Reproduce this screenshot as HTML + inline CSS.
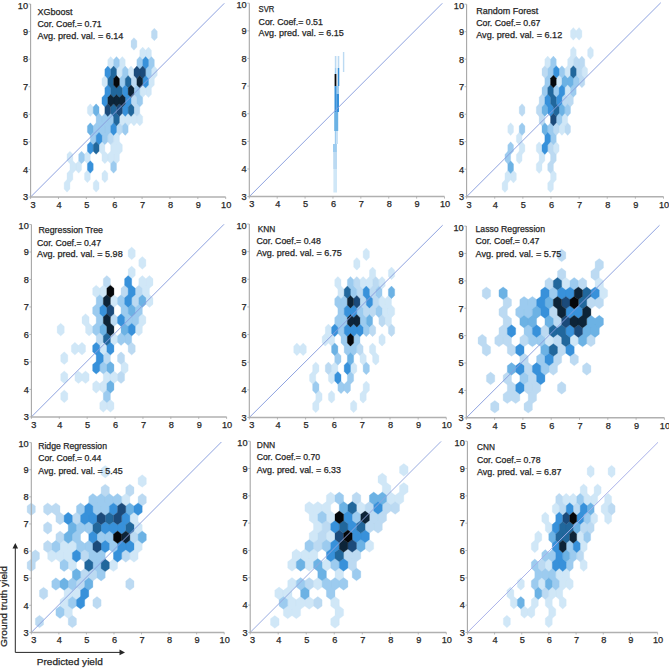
<!DOCTYPE html><html><head><meta charset="utf-8"><style>html,body{margin:0;padding:0;background:#fff;}svg{display:block;}text{font-family:"Liberation Sans",sans-serif;fill:#262626;stroke:#262626;stroke-width:0.25px;}</style></head><body>
<svg width="669" height="668" viewBox="0 0 669 668">
<rect width="669" height="668" fill="#fff"/>
<path fill="#d0e7f7" stroke="#d0e7f7" stroke-width="0.3" d="M142.69 47.11L145.6 50.27L145.6 56.57L142.69 59.73L139.78 56.57L139.78 50.27ZM148.51 47.11L151.42 50.27L151.42 56.57L148.51 59.73L145.6 56.57L145.6 50.27ZM110.68 56.57L113.59 59.73L113.59 66.03L110.68 69.19L107.77 66.03L107.77 59.73ZM122.32 56.57L125.23 59.73L125.23 66.03L122.32 69.19L119.41 66.03L119.41 59.73ZM119.41 66.03L122.32 69.19L122.32 75.49L119.41 78.65L116.5 75.49L116.5 69.19ZM131.05 66.03L133.96 69.19L133.96 75.49L131.05 78.65L128.14 75.49L128.14 69.19ZM154.33 66.03L157.24 69.19L157.24 75.49L154.33 78.65L151.42 75.49L151.42 69.19ZM104.86 75.49L107.77 78.65L107.77 84.95L104.86 88.11L101.95 84.95L101.95 78.65ZM151.42 75.49L154.33 78.65L154.33 84.95L151.42 88.11L148.51 84.95L148.51 78.65ZM142.69 84.95L145.6 88.11L145.6 94.41L142.69 97.57L139.78 94.41L139.78 88.11ZM148.51 84.95L151.42 88.11L151.42 94.41L148.51 97.57L145.6 94.41L145.6 88.11ZM90.31 103.87L93.22 107.03L93.22 113.33L90.31 116.49L87.4 113.33L87.4 107.03ZM122.32 113.33L125.23 116.49L125.23 122.79L122.32 125.95L119.41 122.79L119.41 116.49ZM128.14 113.33L131.05 116.49L131.05 122.79L128.14 125.95L125.23 122.79L125.23 116.49ZM133.96 113.33L136.87 116.49L136.87 122.79L133.96 125.95L131.05 122.79L131.05 116.49ZM139.78 113.33L142.69 116.49L142.69 122.79L139.78 125.95L136.87 122.79L136.87 116.49ZM116.5 132.25L119.41 135.41L119.41 141.71L116.5 144.87L113.59 141.71L113.59 135.41ZM101.95 141.71L104.86 144.87L104.86 151.17L101.95 154.33L99.04 151.17L99.04 144.87ZM113.59 141.71L116.5 144.87L116.5 151.17L113.59 154.33L110.68 151.17L110.68 144.87ZM119.41 141.71L122.32 144.87L122.32 151.17L119.41 154.33L116.5 151.17L116.5 144.87ZM69.94 151.17L72.85 154.33L72.85 160.63L69.94 163.79L67.03 160.63L67.03 154.33ZM87.4 151.17L90.31 154.33L90.31 160.63L87.4 163.79L84.49 160.63L84.49 154.33ZM104.86 151.17L107.77 154.33L107.77 160.63L104.86 163.79L101.95 160.63L101.95 154.33ZM110.68 151.17L113.59 154.33L113.59 160.63L110.68 163.79L107.77 160.63L107.77 154.33ZM116.5 151.17L119.41 154.33L119.41 160.63L116.5 163.79L113.59 160.63L113.59 154.33ZM72.85 160.63L75.76 163.79L75.76 170.09L72.85 173.25L69.94 170.09L69.94 163.79ZM78.67 160.63L81.58 163.79L81.58 170.09L78.67 173.25L75.76 170.09L75.76 163.79ZM69.94 170.09L72.85 173.25L72.85 179.55L69.94 182.71L67.03 179.55L67.03 173.25ZM87.4 170.09L90.31 173.25L90.31 179.55L87.4 182.71L84.49 179.55L84.49 173.25ZM104.86 170.09L107.77 173.25L107.77 179.55L104.86 182.71L101.95 179.55L101.95 173.25ZM67.03 179.55L69.94 182.71L69.94 189.01L67.03 192.17L64.12 189.01L64.12 182.71ZM96.13 179.55L99.04 182.71L99.04 189.01L96.13 192.17L93.22 189.01L93.22 182.71Z"/>
<path fill="#bcdaf2" stroke="#bcdaf2" stroke-width="0.3" d="M154.33 28.19L157.24 31.35L157.24 37.65L154.33 40.81L151.42 37.65L151.42 31.35ZM133.96 37.65L136.87 40.81L136.87 47.11L133.96 50.27L131.05 47.11L131.05 40.81ZM133.96 75.49L136.87 78.65L136.87 84.95L133.96 88.11L131.05 84.95L131.05 78.65ZM133.96 94.41L136.87 97.57L136.87 103.87L133.96 107.03L131.05 103.87L131.05 97.57ZM136.87 103.87L139.78 107.03L139.78 113.33L136.87 116.49L133.96 113.33L133.96 107.03ZM119.41 122.79L122.32 125.95L122.32 132.25L119.41 135.41L116.5 132.25L116.5 125.95ZM110.68 132.25L113.59 135.41L113.59 141.71L110.68 144.87L107.77 141.71L107.77 135.41Z"/>
<path fill="#9ccbef" stroke="#9ccbef" stroke-width="0.3" d="M116.5 56.57L119.41 59.73L119.41 66.03L116.5 69.19L113.59 66.03L113.59 59.73ZM139.78 56.57L142.69 59.73L142.69 66.03L139.78 69.19L136.87 66.03L136.87 59.73ZM151.42 56.57L154.33 59.73L154.33 66.03L151.42 69.19L148.51 66.03L148.51 59.73ZM125.23 66.03L128.14 69.19L128.14 75.49L125.23 78.65L122.32 75.49L122.32 69.19ZM148.51 66.03L151.42 69.19L151.42 75.49L148.51 78.65L145.6 75.49L145.6 69.19ZM122.32 75.49L125.23 78.65L125.23 84.95L122.32 88.11L119.41 84.95L119.41 78.65ZM136.87 84.95L139.78 88.11L139.78 94.41L136.87 97.57L133.96 94.41L133.96 88.11ZM139.78 94.41L142.69 97.57L142.69 103.87L139.78 107.03L136.87 103.87L136.87 97.57ZM99.04 113.33L101.95 116.49L101.95 122.79L99.04 125.95L96.13 122.79L96.13 116.49ZM104.86 113.33L107.77 116.49L107.77 122.79L104.86 125.95L101.95 122.79L101.95 116.49ZM110.68 113.33L113.59 116.49L113.59 122.79L110.68 125.95L107.77 122.79L107.77 116.49ZM96.13 122.79L99.04 125.95L99.04 132.25L96.13 135.41L93.22 132.25L93.22 125.95ZM101.95 122.79L104.86 125.95L104.86 132.25L101.95 135.41L99.04 132.25L99.04 125.95ZM107.77 122.79L110.68 125.95L110.68 132.25L107.77 135.41L104.86 132.25L104.86 125.95ZM125.23 122.79L128.14 125.95L128.14 132.25L125.23 135.41L122.32 132.25L122.32 125.95ZM93.22 132.25L96.13 135.41L96.13 141.71L93.22 144.87L90.31 141.71L90.31 135.41ZM104.86 132.25L107.77 135.41L107.77 141.71L104.86 144.87L101.95 141.71L101.95 135.41ZM81.58 151.17L84.49 154.33L84.49 160.63L81.58 163.79L78.67 160.63L78.67 154.33ZM113.59 160.63L116.5 163.79L116.5 170.09L113.59 173.25L110.68 170.09L110.68 163.79Z"/>
<path fill="#6cb2e4" stroke="#6cb2e4" stroke-width="0.3" d="M96.13 103.87L99.04 107.03L99.04 113.33L96.13 116.49L93.22 113.33L93.22 107.03ZM90.31 122.79L93.22 125.95L93.22 132.25L90.31 135.41L87.4 132.25L87.4 125.95Z"/>
<path fill="#3891da" stroke="#3891da" stroke-width="0.3" d="M145.6 56.57L148.51 59.73L148.51 66.03L145.6 69.19L142.69 66.03L142.69 59.73ZM107.77 66.03L110.68 69.19L110.68 75.49L107.77 78.65L104.86 75.49L104.86 69.19ZM145.6 75.49L148.51 78.65L148.51 84.95L145.6 88.11L142.69 84.95L142.69 78.65ZM107.77 84.95L110.68 88.11L110.68 94.41L107.77 97.57L104.86 94.41L104.86 88.11ZM125.23 84.95L128.14 88.11L128.14 94.41L125.23 97.57L122.32 94.41L122.32 88.11ZM104.86 94.41L107.77 97.57L107.77 103.87L104.86 107.03L101.95 103.87L101.95 97.57ZM128.14 94.41L131.05 97.57L131.05 103.87L128.14 107.03L125.23 103.87L125.23 97.57ZM125.23 103.87L128.14 107.03L128.14 113.33L125.23 116.49L122.32 113.33L122.32 107.03ZM113.59 122.79L116.5 125.95L116.5 132.25L113.59 135.41L110.68 132.25L110.68 125.95ZM99.04 132.25L101.95 135.41L101.95 141.71L99.04 144.87L96.13 141.71L96.13 135.41ZM90.31 141.71L93.22 144.87L93.22 151.17L90.31 154.33L87.4 151.17L87.4 144.87ZM90.31 160.63L93.22 163.79L93.22 170.09L90.31 173.25L87.4 170.09L87.4 163.79Z"/>
<path fill="#21679c" stroke="#21679c" stroke-width="0.3" d="M113.59 66.03L116.5 69.19L116.5 75.49L113.59 78.65L110.68 75.49L110.68 69.19ZM110.68 75.49L113.59 78.65L113.59 84.95L110.68 88.11L107.77 84.95L107.77 78.65ZM128.14 75.49L131.05 78.65L131.05 84.95L128.14 88.11L125.23 84.95L125.23 78.65ZM113.59 84.95L116.5 88.11L116.5 94.41L113.59 97.57L110.68 94.41L110.68 88.11ZM119.41 84.95L122.32 88.11L122.32 94.41L119.41 97.57L116.5 94.41L116.5 88.11ZM113.59 103.87L116.5 107.03L116.5 113.33L113.59 116.49L110.68 113.33L110.68 107.03ZM131.05 103.87L133.96 107.03L133.96 113.33L131.05 116.49L128.14 113.33L128.14 107.03ZM116.5 113.33L119.41 116.49L119.41 122.79L116.5 125.95L113.59 122.79L113.59 116.49ZM96.13 141.71L99.04 144.87L99.04 151.17L96.13 154.33L93.22 151.17L93.22 144.87Z"/>
<path fill="#1b4a7a" stroke="#1b4a7a" stroke-width="0.3" d="M136.87 66.03L139.78 69.19L139.78 75.49L136.87 78.65L133.96 75.49L133.96 69.19ZM142.69 66.03L145.6 69.19L145.6 75.49L142.69 78.65L139.78 75.49L139.78 69.19ZM107.77 103.87L110.68 107.03L110.68 113.33L107.77 116.49L104.86 113.33L104.86 107.03ZM119.41 103.87L122.32 107.03L122.32 113.33L119.41 116.49L116.5 113.33L116.5 107.03Z"/>
<path fill="#0d2438" stroke="#0d2438" stroke-width="0.3" d="M139.78 75.49L142.69 78.65L142.69 84.95L139.78 88.11L136.87 84.95L136.87 78.65ZM131.05 84.95L133.96 88.11L133.96 94.41L131.05 97.57L128.14 94.41L128.14 88.11ZM110.68 94.41L113.59 97.57L113.59 103.87L110.68 107.03L107.77 103.87L107.77 97.57ZM116.5 94.41L119.41 97.57L119.41 103.87L116.5 107.03L113.59 103.87L113.59 97.57ZM122.32 94.41L125.23 97.57L125.23 103.87L122.32 107.03L119.41 103.87L119.41 97.57Z"/>
<path fill="#05070a" stroke="#05070a" stroke-width="0.3" d="M116.5 75.49L119.41 78.65L119.41 84.95L116.5 88.11L113.59 84.95L113.59 78.65Z"/>
<line x1="30.6" y1="197" x2="224.3" y2="3.3" stroke="#889ddd" stroke-width="0.95"/>
<line x1="30.6" y1="4" x2="30.6" y2="197" stroke="#a6a6a6" stroke-width="1.1"/>
<line x1="30.1" y1="197" x2="225.7" y2="197" stroke="#b0b0b0" stroke-width="1.5"/>
<line x1="28.6" y1="197" x2="30.6" y2="197" stroke="#a6a6a6" stroke-width="0.8"/>
<line x1="30.6" y1="197" x2="30.6" y2="199" stroke="#a6a6a6" stroke-width="0.8"/>
<text x="28" y="200.3" font-size="9.2" text-anchor="end">3</text>
<text x="33" y="207.8" font-size="9.2" text-anchor="middle">3</text>
<line x1="28.6" y1="169.43" x2="30.6" y2="169.43" stroke="#a6a6a6" stroke-width="0.8"/>
<line x1="58.47" y1="197" x2="58.47" y2="199" stroke="#a6a6a6" stroke-width="0.8"/>
<text x="28" y="172.73" font-size="9.2" text-anchor="end">4</text>
<text x="58.97" y="207.8" font-size="9.2" text-anchor="middle">4</text>
<line x1="28.6" y1="141.86" x2="30.6" y2="141.86" stroke="#a6a6a6" stroke-width="0.8"/>
<line x1="86.34" y1="197" x2="86.34" y2="199" stroke="#a6a6a6" stroke-width="0.8"/>
<text x="28" y="145.16" font-size="9.2" text-anchor="end">5</text>
<text x="86.84" y="207.8" font-size="9.2" text-anchor="middle">5</text>
<line x1="28.6" y1="114.29" x2="30.6" y2="114.29" stroke="#a6a6a6" stroke-width="0.8"/>
<line x1="114.21" y1="197" x2="114.21" y2="199" stroke="#a6a6a6" stroke-width="0.8"/>
<text x="28" y="117.59" font-size="9.2" text-anchor="end">6</text>
<text x="114.71" y="207.8" font-size="9.2" text-anchor="middle">6</text>
<line x1="28.6" y1="86.71" x2="30.6" y2="86.71" stroke="#a6a6a6" stroke-width="0.8"/>
<line x1="142.09" y1="197" x2="142.09" y2="199" stroke="#a6a6a6" stroke-width="0.8"/>
<text x="28" y="90.01" font-size="9.2" text-anchor="end">7</text>
<text x="142.59" y="207.8" font-size="9.2" text-anchor="middle">7</text>
<line x1="28.6" y1="59.14" x2="30.6" y2="59.14" stroke="#a6a6a6" stroke-width="0.8"/>
<line x1="169.96" y1="197" x2="169.96" y2="199" stroke="#a6a6a6" stroke-width="0.8"/>
<text x="28" y="62.44" font-size="9.2" text-anchor="end">8</text>
<text x="170.46" y="207.8" font-size="9.2" text-anchor="middle">8</text>
<line x1="28.6" y1="31.57" x2="30.6" y2="31.57" stroke="#a6a6a6" stroke-width="0.8"/>
<line x1="197.83" y1="197" x2="197.83" y2="199" stroke="#a6a6a6" stroke-width="0.8"/>
<text x="28" y="34.87" font-size="9.2" text-anchor="end">9</text>
<text x="198.33" y="207.8" font-size="9.2" text-anchor="middle">9</text>
<line x1="28.6" y1="4" x2="30.6" y2="4" stroke="#a6a6a6" stroke-width="0.8"/>
<line x1="225.7" y1="197" x2="225.7" y2="199" stroke="#a6a6a6" stroke-width="0.8"/>
<text x="28" y="8.8" font-size="9.2" text-anchor="end">10</text>
<text x="226.2" y="207.8" font-size="9.2" text-anchor="middle">10</text>
<text x="37.5" y="14.5" font-size="9" textLength="35.1" lengthAdjust="spacingAndGlyphs">XGboost</text>
<text x="37.5" y="26.6" font-size="9" textLength="64.2" lengthAdjust="spacingAndGlyphs">Cor. Coef.= 0.71</text>
<text x="37.5" y="39" font-size="9" textLength="85.9" lengthAdjust="spacingAndGlyphs">Avg. pred. val. = 6.14</text>
<rect x="334.8" y="56" width="1.6" height="12" fill="#bcdaf2"/>
<rect x="337.7" y="56" width="1.6" height="12" fill="#bcdaf2"/>
<rect x="334.8" y="68" width="1.6" height="6" fill="#9ccbef"/>
<rect x="337.7" y="68" width="1.6" height="18" fill="#3891da"/>
<rect x="334.6" y="74" width="1.8" height="12" fill="#05070a"/>
<rect x="334.5" y="86" width="2.2" height="26" fill="#3891da"/>
<rect x="336.7" y="86" width="2.3" height="8" fill="#9ccbef"/>
<rect x="336.7" y="94" width="2.3" height="18" fill="#3891da"/>
<rect x="334.2" y="112" width="4" height="19" fill="#6cb2e4"/>
<rect x="334.8" y="131" width="1.5" height="13" fill="#9ccbef"/>
<rect x="336.3" y="131" width="1.5" height="13" fill="#bcdaf2"/>
<rect x="333" y="144" width="3.9" height="8" fill="#9ccbef"/>
<rect x="333.2" y="152" width="3.8" height="17" fill="#bcdaf2"/>
<rect x="333.4" y="169" width="3.6" height="23.5" fill="#d0e7f7"/>
<rect x="342.9" y="52" width="1.4" height="20" fill="#bcdaf2"/>
<line x1="249.3" y1="196.6" x2="442.3" y2="3.3" stroke="#889ddd" stroke-width="0.95"/>
<line x1="249.3" y1="3.2" x2="249.3" y2="196.6" stroke="#a6a6a6" stroke-width="1.1"/>
<line x1="248.8" y1="196.6" x2="444.5" y2="196.6" stroke="#b0b0b0" stroke-width="1.5"/>
<line x1="247.3" y1="196.6" x2="249.3" y2="196.6" stroke="#a6a6a6" stroke-width="0.8"/>
<line x1="249.3" y1="196.6" x2="249.3" y2="198.6" stroke="#a6a6a6" stroke-width="0.8"/>
<text x="246.7" y="199.9" font-size="9.2" text-anchor="end">3</text>
<text x="251.7" y="207.4" font-size="9.2" text-anchor="middle">3</text>
<line x1="247.3" y1="168.97" x2="249.3" y2="168.97" stroke="#a6a6a6" stroke-width="0.8"/>
<line x1="277.19" y1="196.6" x2="277.19" y2="198.6" stroke="#a6a6a6" stroke-width="0.8"/>
<text x="246.7" y="172.27" font-size="9.2" text-anchor="end">4</text>
<text x="277.69" y="207.4" font-size="9.2" text-anchor="middle">4</text>
<line x1="247.3" y1="141.34" x2="249.3" y2="141.34" stroke="#a6a6a6" stroke-width="0.8"/>
<line x1="305.07" y1="196.6" x2="305.07" y2="198.6" stroke="#a6a6a6" stroke-width="0.8"/>
<text x="246.7" y="144.64" font-size="9.2" text-anchor="end">5</text>
<text x="305.57" y="207.4" font-size="9.2" text-anchor="middle">5</text>
<line x1="247.3" y1="113.71" x2="249.3" y2="113.71" stroke="#a6a6a6" stroke-width="0.8"/>
<line x1="332.96" y1="196.6" x2="332.96" y2="198.6" stroke="#a6a6a6" stroke-width="0.8"/>
<text x="246.7" y="117.01" font-size="9.2" text-anchor="end">6</text>
<text x="333.46" y="207.4" font-size="9.2" text-anchor="middle">6</text>
<line x1="247.3" y1="86.09" x2="249.3" y2="86.09" stroke="#a6a6a6" stroke-width="0.8"/>
<line x1="360.84" y1="196.6" x2="360.84" y2="198.6" stroke="#a6a6a6" stroke-width="0.8"/>
<text x="246.7" y="89.39" font-size="9.2" text-anchor="end">7</text>
<text x="361.34" y="207.4" font-size="9.2" text-anchor="middle">7</text>
<line x1="247.3" y1="58.46" x2="249.3" y2="58.46" stroke="#a6a6a6" stroke-width="0.8"/>
<line x1="388.73" y1="196.6" x2="388.73" y2="198.6" stroke="#a6a6a6" stroke-width="0.8"/>
<text x="246.7" y="61.76" font-size="9.2" text-anchor="end">8</text>
<text x="389.23" y="207.4" font-size="9.2" text-anchor="middle">8</text>
<line x1="247.3" y1="30.83" x2="249.3" y2="30.83" stroke="#a6a6a6" stroke-width="0.8"/>
<line x1="416.61" y1="196.6" x2="416.61" y2="198.6" stroke="#a6a6a6" stroke-width="0.8"/>
<text x="246.7" y="34.13" font-size="9.2" text-anchor="end">9</text>
<text x="417.11" y="207.4" font-size="9.2" text-anchor="middle">9</text>
<line x1="247.3" y1="3.2" x2="249.3" y2="3.2" stroke="#a6a6a6" stroke-width="0.8"/>
<line x1="444.5" y1="196.6" x2="444.5" y2="198.6" stroke="#a6a6a6" stroke-width="0.8"/>
<text x="246.7" y="8" font-size="9.2" text-anchor="end">10</text>
<text x="445" y="207.4" font-size="9.2" text-anchor="middle">10</text>
<text x="258.6" y="12.3" font-size="9" textLength="15.7" lengthAdjust="spacingAndGlyphs">SVR</text>
<text x="258.6" y="24.5" font-size="9" textLength="64.3" lengthAdjust="spacingAndGlyphs">Cor. Coef.= 0.51</text>
<text x="258.6" y="36" font-size="9" textLength="85.2" lengthAdjust="spacingAndGlyphs">Avg. pred. val. = 6.15</text>
<path fill="#d0e7f7" stroke="#d0e7f7" stroke-width="0.3" d="M573.35 27.55L576.2 30.73L576.2 37.07L573.35 40.25L570.5 37.07L570.5 30.73ZM579.05 27.55L581.9 30.73L581.9 37.07L579.05 40.25L576.2 37.07L576.2 30.73ZM573.35 46.59L576.2 49.77L576.2 56.11L573.35 59.29L570.5 56.11L570.5 49.77ZM590.45 46.59L593.3 49.77L593.3 56.11L590.45 59.29L587.6 56.11L587.6 49.77ZM547.7 56.11L550.55 59.29L550.55 65.63L547.7 68.81L544.85 65.63L544.85 59.29ZM570.5 56.11L573.35 59.29L573.35 65.63L570.5 68.81L567.65 65.63L567.65 59.29ZM567.65 65.63L570.5 68.81L570.5 75.15L567.65 78.33L564.8 75.15L564.8 68.81ZM584.75 65.63L587.6 68.81L587.6 75.15L584.75 78.33L581.9 75.15L581.9 68.81ZM559.1 75.15L561.95 78.33L561.95 84.67L559.1 87.85L556.25 84.67L556.25 78.33ZM567.65 84.67L570.5 87.85L570.5 94.19L567.65 97.37L564.8 94.19L564.8 87.85ZM564.8 113.23L567.65 116.41L567.65 122.75L564.8 125.93L561.95 122.75L561.95 116.41ZM510.65 122.75L513.5 125.93L513.5 132.27L510.65 135.45L507.8 132.27L507.8 125.93ZM561.95 122.75L564.8 125.93L564.8 132.27L561.95 135.45L559.1 132.27L559.1 125.93ZM519.2 132.27L522.05 135.45L522.05 141.79L519.2 144.97L516.35 141.79L516.35 135.45ZM522.05 141.79L524.9 144.97L524.9 151.31L522.05 154.49L519.2 151.31L519.2 144.97ZM539.15 141.79L542 144.97L542 151.31L539.15 154.49L536.3 151.31L536.3 144.97ZM556.25 141.79L559.1 144.97L559.1 151.31L556.25 154.49L553.4 151.31L553.4 144.97ZM519.2 151.31L522.05 154.49L522.05 160.83L519.2 164.01L516.35 160.83L516.35 154.49ZM542 151.31L544.85 154.49L544.85 160.83L542 164.01L539.15 160.83L539.15 154.49ZM539.15 160.83L542 164.01L542 170.35L539.15 173.53L536.3 170.35L536.3 164.01ZM507.8 170.35L510.65 173.53L510.65 179.87L507.8 183.05L504.95 179.87L504.95 173.53ZM513.5 170.35L516.35 173.53L516.35 179.87L513.5 183.05L510.65 179.87L510.65 173.53ZM553.4 170.35L556.25 173.53L556.25 179.87L553.4 183.05L550.55 179.87L550.55 173.53ZM504.95 179.87L507.8 183.05L507.8 189.39L504.95 192.57L502.1 189.39L502.1 183.05ZM550.55 179.87L553.4 183.05L553.4 189.39L550.55 192.57L547.7 189.39L547.7 183.05Z"/>
<path fill="#bcdaf2" stroke="#bcdaf2" stroke-width="0.3" d="M576.2 56.11L579.05 59.29L579.05 65.63L576.2 68.81L573.35 65.63L573.35 59.29ZM581.9 56.11L584.75 59.29L584.75 65.63L581.9 68.81L579.05 65.63L579.05 59.29ZM544.85 65.63L547.7 68.81L547.7 75.15L544.85 78.33L542 75.15L542 68.81ZM579.05 65.63L581.9 68.81L581.9 75.15L579.05 78.33L576.2 75.15L576.2 68.81ZM581.9 75.15L584.75 78.33L584.75 84.67L581.9 87.85L579.05 84.67L579.05 78.33ZM542 94.19L544.85 97.37L544.85 103.71L542 106.89L539.15 103.71L539.15 97.37ZM564.8 94.19L567.65 97.37L567.65 103.71L564.8 106.89L561.95 103.71L561.95 97.37ZM570.5 94.19L573.35 97.37L573.35 103.71L570.5 106.89L567.65 103.71L567.65 97.37ZM522.05 103.71L524.9 106.89L524.9 113.23L522.05 116.41L519.2 113.23L519.2 106.89ZM539.15 103.71L542 106.89L542 113.23L539.15 116.41L536.3 113.23L536.3 106.89ZM542 113.23L544.85 116.41L544.85 122.75L542 125.93L539.15 122.75L539.15 116.41ZM556.25 122.75L559.1 125.93L559.1 132.27L556.25 135.45L553.4 132.27L553.4 125.93ZM567.65 122.75L570.5 125.93L570.5 132.27L567.65 135.45L564.8 132.27L564.8 125.93ZM550.55 141.79L553.4 144.97L553.4 151.31L550.55 154.49L547.7 151.31L547.7 144.97ZM553.4 151.31L556.25 154.49L556.25 160.83L553.4 164.01L550.55 160.83L550.55 154.49ZM550.55 160.83L553.4 164.01L553.4 170.35L550.55 173.53L547.7 170.35L547.7 164.01Z"/>
<path fill="#9ccbef" stroke="#9ccbef" stroke-width="0.3" d="M553.4 56.11L556.25 59.29L556.25 65.63L553.4 68.81L550.55 65.63L550.55 59.29ZM550.55 65.63L553.4 68.81L553.4 75.15L550.55 78.33L547.7 75.15L547.7 68.81ZM561.95 65.63L564.8 68.81L564.8 75.15L561.95 78.33L559.1 75.15L559.1 68.81ZM547.7 75.15L550.55 78.33L550.55 84.67L547.7 87.85L544.85 84.67L544.85 78.33ZM576.2 75.15L579.05 78.33L579.05 84.67L576.2 87.85L573.35 84.67L573.35 78.33ZM544.85 84.67L547.7 87.85L547.7 94.19L544.85 97.37L542 94.19L542 87.85ZM556.25 84.67L559.1 87.85L559.1 94.19L556.25 97.37L553.4 94.19L553.4 87.85ZM573.35 84.67L576.2 87.85L576.2 94.19L573.35 97.37L570.5 94.19L570.5 87.85ZM567.65 103.71L570.5 106.89L570.5 113.23L567.65 116.41L564.8 113.23L564.8 106.89ZM559.1 113.23L561.95 116.41L561.95 122.75L559.1 125.93L556.25 122.75L556.25 116.41ZM522.05 122.75L524.9 125.93L524.9 132.27L522.05 135.45L519.2 132.27L519.2 125.93ZM550.55 122.75L553.4 125.93L553.4 132.27L550.55 135.45L547.7 132.27L547.7 125.93ZM553.4 132.27L556.25 135.45L556.25 141.79L553.4 144.97L550.55 141.79L550.55 135.45ZM510.65 141.79L513.5 144.97L513.5 151.31L510.65 154.49L507.8 151.31L507.8 144.97ZM507.8 151.31L510.65 154.49L510.65 160.83L507.8 164.01L504.95 160.83L504.95 154.49Z"/>
<path fill="#6cb2e4" stroke="#6cb2e4" stroke-width="0.3" d="M564.8 75.15L567.65 78.33L567.65 84.67L564.8 87.85L561.95 84.67L561.95 78.33ZM570.5 75.15L573.35 78.33L573.35 84.67L570.5 87.85L567.65 84.67L567.65 78.33ZM544.85 103.71L547.7 106.89L547.7 113.23L544.85 116.41L542 113.23L542 106.89ZM561.95 103.71L564.8 106.89L564.8 113.23L561.95 116.41L559.1 113.23L559.1 106.89ZM544.85 122.75L547.7 125.93L547.7 132.27L544.85 135.45L542 132.27L542 125.93ZM510.65 160.83L513.5 164.01L513.5 170.35L510.65 173.53L507.8 170.35L507.8 164.01Z"/>
<path fill="#3891da" stroke="#3891da" stroke-width="0.3" d="M556.25 65.63L559.1 68.81L559.1 75.15L556.25 78.33L553.4 75.15L553.4 68.81ZM561.95 84.67L564.8 87.85L564.8 94.19L561.95 97.37L559.1 94.19L559.1 87.85ZM547.7 94.19L550.55 97.37L550.55 103.71L547.7 106.89L544.85 103.71L544.85 97.37ZM559.1 94.19L561.95 97.37L561.95 103.71L559.1 106.89L556.25 103.71L556.25 97.37ZM550.55 103.71L553.4 106.89L553.4 113.23L550.55 116.41L547.7 113.23L547.7 106.89ZM547.7 132.27L550.55 135.45L550.55 141.79L547.7 144.97L544.85 141.79L544.85 135.45ZM544.85 141.79L547.7 144.97L547.7 151.31L544.85 154.49L542 151.31L542 144.97Z"/>
<path fill="#21679c" stroke="#21679c" stroke-width="0.3" d="M573.35 65.63L576.2 68.81L576.2 75.15L573.35 78.33L570.5 75.15L570.5 68.81ZM550.55 84.67L553.4 87.85L553.4 94.19L550.55 97.37L547.7 94.19L547.7 87.85ZM553.4 94.19L556.25 97.37L556.25 103.71L553.4 106.89L550.55 103.71L550.55 97.37ZM556.25 103.71L559.1 106.89L559.1 113.23L556.25 116.41L553.4 113.23L553.4 106.89Z"/>
<path fill="#1b4a7a" stroke="#1b4a7a" stroke-width="0.3" d="M553.4 113.23L556.25 116.41L556.25 122.75L553.4 125.93L550.55 122.75L550.55 116.41Z"/>
<path fill="#05070a" stroke="#05070a" stroke-width="0.3" d="M553.4 75.15L556.25 78.33L556.25 84.67L553.4 87.85L550.55 84.67L550.55 78.33Z"/>
<line x1="466.6" y1="196.7" x2="660.8" y2="2.7" stroke="#889ddd" stroke-width="0.95"/>
<line x1="466.6" y1="4.2" x2="466.6" y2="196.7" stroke="#a6a6a6" stroke-width="1.1"/>
<line x1="466.1" y1="196.7" x2="663.5" y2="196.7" stroke="#b0b0b0" stroke-width="1.5"/>
<line x1="464.6" y1="196.7" x2="466.6" y2="196.7" stroke="#a6a6a6" stroke-width="0.8"/>
<line x1="466.6" y1="196.7" x2="466.6" y2="198.7" stroke="#a6a6a6" stroke-width="0.8"/>
<text x="464" y="200" font-size="9.2" text-anchor="end">3</text>
<text x="469" y="207.5" font-size="9.2" text-anchor="middle">3</text>
<line x1="464.6" y1="169.2" x2="466.6" y2="169.2" stroke="#a6a6a6" stroke-width="0.8"/>
<line x1="494.73" y1="196.7" x2="494.73" y2="198.7" stroke="#a6a6a6" stroke-width="0.8"/>
<text x="464" y="172.5" font-size="9.2" text-anchor="end">4</text>
<text x="495.23" y="207.5" font-size="9.2" text-anchor="middle">4</text>
<line x1="464.6" y1="141.7" x2="466.6" y2="141.7" stroke="#a6a6a6" stroke-width="0.8"/>
<line x1="522.86" y1="196.7" x2="522.86" y2="198.7" stroke="#a6a6a6" stroke-width="0.8"/>
<text x="464" y="145" font-size="9.2" text-anchor="end">5</text>
<text x="523.36" y="207.5" font-size="9.2" text-anchor="middle">5</text>
<line x1="464.6" y1="114.2" x2="466.6" y2="114.2" stroke="#a6a6a6" stroke-width="0.8"/>
<line x1="550.99" y1="196.7" x2="550.99" y2="198.7" stroke="#a6a6a6" stroke-width="0.8"/>
<text x="464" y="117.5" font-size="9.2" text-anchor="end">6</text>
<text x="551.49" y="207.5" font-size="9.2" text-anchor="middle">6</text>
<line x1="464.6" y1="86.7" x2="466.6" y2="86.7" stroke="#a6a6a6" stroke-width="0.8"/>
<line x1="579.11" y1="196.7" x2="579.11" y2="198.7" stroke="#a6a6a6" stroke-width="0.8"/>
<text x="464" y="90" font-size="9.2" text-anchor="end">7</text>
<text x="579.61" y="207.5" font-size="9.2" text-anchor="middle">7</text>
<line x1="464.6" y1="59.2" x2="466.6" y2="59.2" stroke="#a6a6a6" stroke-width="0.8"/>
<line x1="607.24" y1="196.7" x2="607.24" y2="198.7" stroke="#a6a6a6" stroke-width="0.8"/>
<text x="464" y="62.5" font-size="9.2" text-anchor="end">8</text>
<text x="607.74" y="207.5" font-size="9.2" text-anchor="middle">8</text>
<line x1="464.6" y1="31.7" x2="466.6" y2="31.7" stroke="#a6a6a6" stroke-width="0.8"/>
<line x1="635.37" y1="196.7" x2="635.37" y2="198.7" stroke="#a6a6a6" stroke-width="0.8"/>
<text x="464" y="35" font-size="9.2" text-anchor="end">9</text>
<text x="635.87" y="207.5" font-size="9.2" text-anchor="middle">9</text>
<line x1="464.6" y1="4.2" x2="466.6" y2="4.2" stroke="#a6a6a6" stroke-width="0.8"/>
<line x1="663.5" y1="196.7" x2="663.5" y2="198.7" stroke="#a6a6a6" stroke-width="0.8"/>
<text x="464" y="9" font-size="9.2" text-anchor="end">10</text>
<text x="664" y="207.5" font-size="9.2" text-anchor="middle">10</text>
<text x="476.2" y="13.6" font-size="9" textLength="62.1" lengthAdjust="spacingAndGlyphs">Random Forest</text>
<text x="476.2" y="26" font-size="9" textLength="64.3" lengthAdjust="spacingAndGlyphs">Cor. Coef.= 0.67</text>
<text x="476.2" y="38" font-size="9" textLength="86" lengthAdjust="spacingAndGlyphs">Avg. pred. val. = 6.12</text>
<path fill="#d0e7f7" stroke="#d0e7f7" stroke-width="0.3" d="M131.7 247.03L135.25 250.2L135.25 256.56L131.7 259.73L128.15 256.56L128.15 250.2ZM142.35 256.56L145.9 259.73L145.9 266.09L142.35 269.26L138.8 266.09L138.8 259.73ZM131.7 266.09L135.25 269.26L135.25 275.62L131.7 278.79L128.15 275.62L128.15 269.26ZM142.35 275.62L145.9 278.79L145.9 285.15L142.35 288.32L138.8 285.15L138.8 278.79ZM149.45 275.62L153 278.79L153 285.15L149.45 288.32L145.9 285.15L145.9 278.79ZM96.2 285.15L99.75 288.32L99.75 294.68L96.2 297.85L92.65 294.68L92.65 288.32ZM103.3 285.15L106.85 288.32L106.85 294.68L103.3 297.85L99.75 294.68L99.75 288.32ZM145.9 285.15L149.45 288.32L149.45 294.68L145.9 297.85L142.35 294.68L142.35 288.32ZM113.95 294.68L117.5 297.85L117.5 304.21L113.95 307.38L110.4 304.21L110.4 297.85ZM149.45 294.68L153 297.85L153 304.21L149.45 307.38L145.9 304.21L145.9 297.85ZM85.55 313.74L89.1 316.91L89.1 323.27L85.55 326.44L82 323.27L82 316.91ZM142.35 313.74L145.9 316.91L145.9 323.27L142.35 326.44L138.8 323.27L138.8 316.91ZM60.7 323.27L64.25 326.44L64.25 332.8L60.7 335.97L57.15 332.8L57.15 326.44ZM89.1 323.27L92.65 326.44L92.65 332.8L89.1 335.97L85.55 332.8L85.55 326.44ZM138.8 323.27L142.35 326.44L142.35 332.8L138.8 335.97L135.25 332.8L135.25 326.44ZM113.95 332.8L117.5 335.97L117.5 342.33L113.95 345.5L110.4 342.33L110.4 335.97ZM74.9 342.33L78.45 345.5L78.45 351.86L74.9 355.03L71.35 351.86L71.35 345.5ZM82 342.33L85.55 345.5L85.55 351.86L82 355.03L78.45 351.86L78.45 345.5ZM103.3 342.33L106.85 345.5L106.85 351.86L103.3 355.03L99.75 351.86L99.75 345.5ZM64.25 351.86L67.8 355.03L67.8 361.39L64.25 364.56L60.7 361.39L60.7 355.03ZM124.6 361.39L128.15 364.56L128.15 370.92L124.6 374.09L121.05 370.92L121.05 364.56ZM64.25 370.92L67.8 374.09L67.8 380.45L64.25 383.62L60.7 380.45L60.7 374.09ZM78.45 370.92L82 374.09L82 380.45L78.45 383.62L74.9 380.45L74.9 374.09ZM85.55 370.92L89.1 374.09L89.1 380.45L85.55 383.62L82 380.45L82 374.09ZM106.85 370.92L110.4 374.09L110.4 380.45L106.85 383.62L103.3 380.45L103.3 374.09ZM113.95 370.92L117.5 374.09L117.5 380.45L113.95 383.62L110.4 380.45L110.4 374.09ZM96.2 380.45L99.75 383.62L99.75 389.98L96.2 393.15L92.65 389.98L92.65 383.62ZM103.3 380.45L106.85 383.62L106.85 389.98L103.3 393.15L99.75 389.98L99.75 383.62ZM64.25 389.98L67.8 393.15L67.8 399.51L64.25 402.68L60.7 399.51L60.7 393.15ZM103.3 399.51L106.85 402.68L106.85 409.04L103.3 412.21L99.75 409.04L99.75 402.68ZM110.4 399.51L113.95 402.68L113.95 409.04L110.4 412.21L106.85 409.04L106.85 402.68Z"/>
<path fill="#bcdaf2" stroke="#bcdaf2" stroke-width="0.3" d="M106.85 275.62L110.4 278.79L110.4 285.15L106.85 288.32L103.3 285.15L103.3 278.79ZM124.6 285.15L128.15 288.32L128.15 294.68L124.6 297.85L121.05 294.68L121.05 288.32ZM138.8 285.15L142.35 288.32L142.35 294.68L138.8 297.85L135.25 294.68L135.25 288.32ZM135.25 294.68L138.8 297.85L138.8 304.21L135.25 307.38L131.7 304.21L131.7 297.85ZM113.95 313.74L117.5 316.91L117.5 323.27L113.95 326.44L110.4 323.27L110.4 316.91ZM99.75 332.8L103.3 335.97L103.3 342.33L99.75 345.5L96.2 342.33L96.2 335.97ZM131.7 342.33L135.25 345.5L135.25 351.86L131.7 355.03L128.15 351.86L128.15 345.5ZM106.85 351.86L110.4 355.03L110.4 361.39L106.85 364.56L103.3 361.39L103.3 355.03ZM121.05 351.86L124.6 355.03L124.6 361.39L121.05 364.56L117.5 361.39L117.5 355.03ZM121.05 370.92L124.6 374.09L124.6 380.45L121.05 383.62L117.5 380.45L117.5 374.09Z"/>
<path fill="#9ccbef" stroke="#9ccbef" stroke-width="0.3" d="M99.75 294.68L103.3 297.85L103.3 304.21L99.75 307.38L96.2 304.21L96.2 297.85ZM121.05 294.68L124.6 297.85L124.6 304.21L121.05 307.38L117.5 304.21L117.5 297.85ZM96.2 304.21L99.75 307.38L99.75 313.74L96.2 316.91L92.65 313.74L92.65 307.38ZM124.6 304.21L128.15 307.38L128.15 313.74L124.6 316.91L121.05 313.74L121.05 307.38ZM138.8 304.21L142.35 307.38L142.35 313.74L138.8 316.91L135.25 313.74L135.25 307.38ZM99.75 313.74L103.3 316.91L103.3 323.27L99.75 326.44L96.2 323.27L96.2 316.91ZM128.15 313.74L131.7 316.91L131.7 323.27L128.15 326.44L124.6 323.27L124.6 316.91ZM135.25 313.74L138.8 316.91L138.8 323.27L135.25 326.44L131.7 323.27L131.7 316.91ZM96.2 323.27L99.75 326.44L99.75 332.8L96.2 335.97L92.65 332.8L92.65 326.44ZM121.05 332.8L124.6 335.97L124.6 342.33L121.05 345.5L117.5 342.33L117.5 335.97ZM128.15 332.8L131.7 335.97L131.7 342.33L128.15 345.5L124.6 342.33L124.6 335.97ZM103.3 361.39L106.85 364.56L106.85 370.92L103.3 374.09L99.75 370.92L99.75 364.56ZM106.85 389.98L110.4 393.15L110.4 399.51L106.85 402.68L103.3 399.51L103.3 393.15Z"/>
<path fill="#6cb2e4" stroke="#6cb2e4" stroke-width="0.3" d="M142.35 294.68L145.9 297.85L145.9 304.21L142.35 307.38L138.8 304.21L138.8 297.85ZM131.7 304.21L135.25 307.38L135.25 313.74L131.7 316.91L128.15 313.74L128.15 307.38ZM103.3 323.27L106.85 326.44L106.85 332.8L103.3 335.97L99.75 332.8L99.75 326.44ZM124.6 323.27L128.15 326.44L128.15 332.8L124.6 335.97L121.05 332.8L121.05 326.44ZM110.4 361.39L113.95 364.56L113.95 370.92L110.4 374.09L106.85 370.92L106.85 364.56ZM110.4 380.45L113.95 383.62L113.95 389.98L110.4 393.15L106.85 389.98L106.85 383.62Z"/>
<path fill="#3891da" stroke="#3891da" stroke-width="0.3" d="M128.15 275.62L131.7 278.79L131.7 285.15L128.15 288.32L124.6 285.15L124.6 278.79ZM131.7 285.15L135.25 288.32L135.25 294.68L131.7 297.85L128.15 294.68L128.15 288.32ZM128.15 294.68L131.7 297.85L131.7 304.21L128.15 307.38L124.6 304.21L124.6 297.85ZM103.3 304.21L106.85 307.38L106.85 313.74L103.3 316.91L99.75 313.74L99.75 307.38ZM121.05 313.74L124.6 316.91L124.6 323.27L121.05 326.44L117.5 323.27L117.5 316.91ZM131.7 323.27L135.25 326.44L135.25 332.8L131.7 335.97L128.15 332.8L128.15 326.44ZM96.2 342.33L99.75 345.5L99.75 351.86L96.2 355.03L92.65 351.86L92.65 345.5ZM110.4 342.33L113.95 345.5L113.95 351.86L110.4 355.03L106.85 351.86L106.85 345.5ZM99.75 351.86L103.3 355.03L103.3 361.39L99.75 364.56L96.2 361.39L96.2 355.03ZM96.2 361.39L99.75 364.56L99.75 370.92L96.2 374.09L92.65 370.92L92.65 364.56Z"/>
<path fill="#21679c" stroke="#21679c" stroke-width="0.3" d="M106.85 332.8L110.4 335.97L110.4 342.33L106.85 345.5L103.3 342.33L103.3 335.97Z"/>
<path fill="#1b4a7a" stroke="#1b4a7a" stroke-width="0.3" d="M110.4 304.21L113.95 307.38L113.95 313.74L110.4 316.91L106.85 313.74L106.85 307.38Z"/>
<path fill="#0d2438" stroke="#0d2438" stroke-width="0.3" d="M106.85 294.68L110.4 297.85L110.4 304.21L106.85 307.38L103.3 304.21L103.3 297.85ZM106.85 313.74L110.4 316.91L110.4 323.27L106.85 326.44L103.3 323.27L103.3 316.91ZM110.4 323.27L113.95 326.44L113.95 332.8L110.4 335.97L106.85 332.8L106.85 326.44Z"/>
<path fill="#05070a" stroke="#05070a" stroke-width="0.3" d="M110.4 285.15L113.95 288.32L113.95 294.68L110.4 297.85L106.85 294.68L106.85 288.32Z"/>
<line x1="31.4" y1="416.9" x2="224" y2="224.3" stroke="#889ddd" stroke-width="0.95"/>
<line x1="31.4" y1="224.5" x2="31.4" y2="416.9" stroke="#a6a6a6" stroke-width="1.1"/>
<line x1="30.9" y1="416.9" x2="226.6" y2="416.9" stroke="#b0b0b0" stroke-width="1.5"/>
<line x1="29.4" y1="416.9" x2="31.4" y2="416.9" stroke="#a6a6a6" stroke-width="0.8"/>
<line x1="31.4" y1="416.9" x2="31.4" y2="418.9" stroke="#a6a6a6" stroke-width="0.8"/>
<text x="28.8" y="420.2" font-size="9.2" text-anchor="end">3</text>
<text x="33.8" y="427.7" font-size="9.2" text-anchor="middle">3</text>
<line x1="29.4" y1="389.41" x2="31.4" y2="389.41" stroke="#a6a6a6" stroke-width="0.8"/>
<line x1="59.29" y1="416.9" x2="59.29" y2="418.9" stroke="#a6a6a6" stroke-width="0.8"/>
<text x="28.8" y="392.71" font-size="9.2" text-anchor="end">4</text>
<text x="59.79" y="427.7" font-size="9.2" text-anchor="middle">4</text>
<line x1="29.4" y1="361.93" x2="31.4" y2="361.93" stroke="#a6a6a6" stroke-width="0.8"/>
<line x1="87.17" y1="416.9" x2="87.17" y2="418.9" stroke="#a6a6a6" stroke-width="0.8"/>
<text x="28.8" y="365.23" font-size="9.2" text-anchor="end">5</text>
<text x="87.67" y="427.7" font-size="9.2" text-anchor="middle">5</text>
<line x1="29.4" y1="334.44" x2="31.4" y2="334.44" stroke="#a6a6a6" stroke-width="0.8"/>
<line x1="115.06" y1="416.9" x2="115.06" y2="418.9" stroke="#a6a6a6" stroke-width="0.8"/>
<text x="28.8" y="337.74" font-size="9.2" text-anchor="end">6</text>
<text x="115.56" y="427.7" font-size="9.2" text-anchor="middle">6</text>
<line x1="29.4" y1="306.96" x2="31.4" y2="306.96" stroke="#a6a6a6" stroke-width="0.8"/>
<line x1="142.94" y1="416.9" x2="142.94" y2="418.9" stroke="#a6a6a6" stroke-width="0.8"/>
<text x="28.8" y="310.26" font-size="9.2" text-anchor="end">7</text>
<text x="143.44" y="427.7" font-size="9.2" text-anchor="middle">7</text>
<line x1="29.4" y1="279.47" x2="31.4" y2="279.47" stroke="#a6a6a6" stroke-width="0.8"/>
<line x1="170.83" y1="416.9" x2="170.83" y2="418.9" stroke="#a6a6a6" stroke-width="0.8"/>
<text x="28.8" y="282.77" font-size="9.2" text-anchor="end">8</text>
<text x="171.33" y="427.7" font-size="9.2" text-anchor="middle">8</text>
<line x1="29.4" y1="251.99" x2="31.4" y2="251.99" stroke="#a6a6a6" stroke-width="0.8"/>
<line x1="198.71" y1="416.9" x2="198.71" y2="418.9" stroke="#a6a6a6" stroke-width="0.8"/>
<text x="28.8" y="255.29" font-size="9.2" text-anchor="end">9</text>
<text x="199.21" y="427.7" font-size="9.2" text-anchor="middle">9</text>
<line x1="29.4" y1="224.5" x2="31.4" y2="224.5" stroke="#a6a6a6" stroke-width="0.8"/>
<line x1="226.6" y1="416.9" x2="226.6" y2="418.9" stroke="#a6a6a6" stroke-width="0.8"/>
<text x="28.8" y="229.3" font-size="9.2" text-anchor="end">10</text>
<text x="227.1" y="427.7" font-size="9.2" text-anchor="middle">10</text>
<text x="38.5" y="233" font-size="9" textLength="64.5" lengthAdjust="spacingAndGlyphs">Regression Tree</text>
<text x="37" y="245.5" font-size="9" textLength="64" lengthAdjust="spacingAndGlyphs">Cor. Coef.= 0.47</text>
<text x="37" y="257.2" font-size="9" textLength="85.7" lengthAdjust="spacingAndGlyphs">Avg. pred. val. = 5.98</text>
<path fill="#d0e7f7" stroke="#d0e7f7" stroke-width="0.3" d="M366.27 247.97L369.43 251.13L369.43 257.47L366.27 260.63L363.12 257.47L363.12 251.13ZM356.81 257.47L359.96 260.63L359.96 266.97L356.81 270.13L353.66 266.97L353.66 260.63ZM372.58 266.97L375.74 270.13L375.74 276.47L372.58 279.63L369.43 276.47L369.43 270.13ZM391.51 266.97L394.67 270.13L394.67 276.47L391.51 279.63L388.36 276.47L388.36 270.13ZM337.88 276.47L341.03 279.63L341.03 285.97L337.88 289.13L334.73 285.97L334.73 279.63ZM363.12 276.47L366.27 279.63L366.27 285.97L363.12 289.13L359.97 285.97L359.97 279.63ZM369.43 276.47L372.58 279.63L372.58 285.97L369.43 289.13L366.28 285.97L366.28 279.63ZM382.05 276.47L385.2 279.63L385.2 285.97L382.05 289.13L378.9 285.97L378.9 279.63ZM341.04 285.97L344.19 289.13L344.19 295.47L341.04 298.63L337.88 295.47L337.88 289.13ZM382.05 295.47L385.2 298.63L385.2 304.97L382.05 308.13L378.9 304.97L378.9 298.63ZM388.36 295.47L391.51 298.63L391.51 304.97L388.36 308.13L385.21 304.97L385.21 298.63ZM385.2 304.97L388.36 308.13L388.36 314.47L385.2 317.63L382.05 314.47L382.05 308.13ZM391.51 304.97L394.67 308.13L394.67 314.47L391.51 317.63L388.36 314.47L388.36 308.13ZM388.36 314.47L391.51 317.63L391.51 323.97L388.36 327.13L385.21 323.97L385.21 317.63ZM328.42 323.97L331.57 327.13L331.57 333.47L328.42 336.63L325.26 333.47L325.26 327.13ZM325.26 333.47L328.41 336.63L328.41 342.97L325.26 346.13L322.11 342.97L322.11 336.63ZM331.57 333.47L334.72 336.63L334.72 342.97L331.57 346.13L328.42 342.97L328.42 336.63ZM382.05 333.47L385.2 336.63L385.2 342.97L382.05 346.13L378.9 342.97L378.9 336.63ZM296.87 342.97L300.02 346.13L300.02 352.47L296.87 355.63L293.71 352.47L293.71 346.13ZM303.18 342.97L306.33 346.13L306.33 352.47L303.18 355.63L300.02 352.47L300.02 346.13ZM372.58 342.97L375.74 346.13L375.74 352.47L372.58 355.63L369.43 352.47L369.43 346.13ZM363.12 352.47L366.27 355.63L366.27 361.97L363.12 365.13L359.97 361.97L359.97 355.63ZM375.74 352.47L378.89 355.63L378.89 361.97L375.74 365.13L372.59 361.97L372.59 355.63ZM315.8 361.97L318.95 365.13L318.95 371.47L315.8 374.63L312.64 371.47L312.64 365.13ZM334.73 361.97L337.88 365.13L337.88 371.47L334.73 374.63L331.57 371.47L331.57 365.13ZM353.65 361.97L356.81 365.13L356.81 371.47L353.65 374.63L350.5 371.47L350.5 365.13ZM312.64 371.47L315.79 374.63L315.79 380.97L312.64 384.13L309.49 380.97L309.49 374.63ZM331.57 371.47L334.72 374.63L334.72 380.97L331.57 384.13L328.42 380.97L328.42 374.63ZM366.27 380.97L369.43 384.13L369.43 390.47L366.27 393.63L363.12 390.47L363.12 384.13ZM318.95 390.47L322.1 393.63L322.1 399.97L318.95 403.13L315.8 399.97L315.8 393.63ZM331.57 390.47L334.72 393.63L334.72 399.97L331.57 403.13L328.42 399.97L328.42 393.63ZM363.12 390.47L366.27 393.63L366.27 399.97L363.12 403.13L359.97 399.97L359.97 393.63ZM315.8 399.97L318.95 403.13L318.95 409.47L315.8 412.63L312.64 409.47L312.64 403.13ZM353.65 399.97L356.81 403.13L356.81 409.47L353.65 412.63L350.5 409.47L350.5 403.13Z"/>
<path fill="#bcdaf2" stroke="#bcdaf2" stroke-width="0.3" d="M356.81 276.47L359.96 279.63L359.96 285.97L356.81 289.13L353.66 285.97L353.66 279.63ZM375.74 276.47L378.89 279.63L378.89 285.97L375.74 289.13L372.59 285.97L372.59 279.63ZM359.96 285.97L363.12 289.13L363.12 295.47L359.96 298.63L356.81 295.47L356.81 289.13ZM372.58 285.97L375.74 289.13L375.74 295.47L372.58 298.63L369.43 295.47L369.43 289.13ZM363.12 295.47L366.27 298.63L366.27 304.97L363.12 308.13L359.97 304.97L359.97 298.63ZM375.74 295.47L378.89 298.63L378.89 304.97L375.74 308.13L372.59 304.97L372.59 298.63ZM366.27 304.97L369.43 308.13L369.43 314.47L366.27 317.63L363.12 314.47L363.12 308.13ZM372.58 304.97L375.74 308.13L375.74 314.47L372.58 317.63L369.43 314.47L369.43 308.13ZM382.05 314.47L385.2 317.63L385.2 323.97L382.05 327.13L378.9 323.97L378.9 317.63ZM372.58 323.97L375.74 327.13L375.74 333.47L372.58 336.63L369.43 333.47L369.43 327.13ZM391.51 323.97L394.67 327.13L394.67 333.47L391.51 336.63L388.36 333.47L388.36 327.13ZM359.96 342.97L363.12 346.13L363.12 352.47L359.96 355.63L356.81 352.47L356.81 346.13ZM328.42 361.97L331.57 365.13L331.57 371.47L328.42 374.63L325.26 371.47L325.26 365.13Z"/>
<path fill="#9ccbef" stroke="#9ccbef" stroke-width="0.3" d="M350.5 276.47L353.65 279.63L353.65 285.97L350.5 289.13L347.35 285.97L347.35 279.63ZM353.65 285.97L356.81 289.13L356.81 295.47L353.65 298.63L350.5 295.47L350.5 289.13ZM378.89 285.97L382.05 289.13L382.05 295.47L378.89 298.63L375.74 295.47L375.74 289.13ZM337.88 295.47L341.03 298.63L341.03 304.97L337.88 308.13L334.73 304.97L334.73 298.63ZM344.19 295.47L347.34 298.63L347.34 304.97L344.19 308.13L341.04 304.97L341.04 298.63ZM341.04 304.97L344.19 308.13L344.19 314.47L341.04 317.63L337.88 314.47L337.88 308.13ZM359.96 304.97L363.12 308.13L363.12 314.47L359.96 317.63L356.81 314.47L356.81 308.13ZM378.89 304.97L382.05 308.13L382.05 314.47L378.89 317.63L375.74 314.47L375.74 308.13ZM337.88 314.47L341.03 317.63L341.03 323.97L337.88 327.13L334.73 323.97L334.73 317.63ZM344.19 314.47L347.34 317.63L347.34 323.97L344.19 327.13L341.04 323.97L341.04 317.63ZM363.12 314.47L366.27 317.63L366.27 323.97L363.12 327.13L359.97 323.97L359.97 317.63ZM341.04 323.97L344.19 327.13L344.19 333.47L341.04 336.63L337.88 333.47L337.88 327.13ZM366.27 323.97L369.43 327.13L369.43 333.47L366.27 336.63L363.12 333.47L363.12 327.13ZM344.19 333.47L347.34 336.63L347.34 342.97L344.19 346.13L341.04 342.97L341.04 336.63ZM356.81 333.47L359.96 336.63L359.96 342.97L356.81 346.13L353.66 342.97L353.66 336.63ZM347.35 342.97L350.5 346.13L350.5 352.47L347.35 355.63L344.19 352.47L344.19 346.13ZM353.65 342.97L356.81 346.13L356.81 352.47L353.65 355.63L350.5 352.47L350.5 346.13ZM337.88 352.47L341.03 355.63L341.03 361.97L337.88 365.13L334.73 361.97L334.73 355.63ZM366.27 361.97L369.43 365.13L369.43 371.47L366.27 374.63L363.12 371.47L363.12 365.13ZM350.5 371.47L353.65 374.63L353.65 380.97L350.5 384.13L347.35 380.97L347.35 374.63ZM315.8 380.97L318.95 384.13L318.95 390.47L315.8 393.63L312.64 390.47L312.64 384.13ZM341.04 380.97L344.19 384.13L344.19 390.47L341.04 393.63L337.88 390.47L337.88 384.13ZM347.35 380.97L350.5 384.13L350.5 390.47L347.35 393.63L344.19 390.47L344.19 384.13Z"/>
<path fill="#6cb2e4" stroke="#6cb2e4" stroke-width="0.3" d="M391.51 285.97L394.67 289.13L394.67 295.47L391.51 298.63L388.36 295.47L388.36 289.13ZM369.43 314.47L372.58 317.63L372.58 323.97L369.43 327.13L366.28 323.97L366.28 317.63ZM334.73 342.97L337.88 346.13L337.88 352.47L334.73 355.63L331.57 352.47L331.57 346.13ZM350.5 352.47L353.65 355.63L353.65 361.97L350.5 365.13L347.35 361.97L347.35 355.63Z"/>
<path fill="#3891da" stroke="#3891da" stroke-width="0.3" d="M366.27 285.97L369.43 289.13L369.43 295.47L366.27 298.63L363.12 295.47L363.12 289.13ZM369.43 295.47L372.58 298.63L372.58 304.97L369.43 308.13L366.28 304.97L366.28 298.63ZM347.35 304.97L350.5 308.13L350.5 314.47L347.35 317.63L344.19 314.47L344.19 308.13ZM353.65 304.97L356.81 308.13L356.81 314.47L353.65 317.63L350.5 314.47L350.5 308.13ZM334.73 323.97L337.88 327.13L337.88 333.47L334.73 336.63L331.57 333.47L331.57 327.13ZM347.35 323.97L350.5 327.13L350.5 333.47L347.35 336.63L344.19 333.47L344.19 327.13ZM353.65 323.97L356.81 327.13L356.81 333.47L353.65 336.63L350.5 333.47L350.5 327.13ZM359.96 323.97L363.12 327.13L363.12 333.47L359.96 336.63L356.81 333.47L356.81 327.13ZM347.35 361.97L350.5 365.13L350.5 371.47L347.35 374.63L344.19 371.47L344.19 365.13ZM337.88 371.47L341.03 374.63L341.03 380.97L337.88 384.13L334.73 380.97L334.73 374.63Z"/>
<path fill="#21679c" stroke="#21679c" stroke-width="0.3" d="M347.35 285.97L350.5 289.13L350.5 295.47L347.35 298.63L344.19 295.47L344.19 289.13Z"/>
<path fill="#1b4a7a" stroke="#1b4a7a" stroke-width="0.3" d="M356.81 295.47L359.96 298.63L359.96 304.97L356.81 308.13L353.66 304.97L353.66 298.63Z"/>
<path fill="#0d2438" stroke="#0d2438" stroke-width="0.3" d="M350.5 295.47L353.65 298.63L353.65 304.97L350.5 308.13L347.35 304.97L347.35 298.63ZM350.5 314.47L353.65 317.63L353.65 323.97L350.5 327.13L347.35 323.97L347.35 317.63ZM356.81 314.47L359.96 317.63L359.96 323.97L356.81 327.13L353.66 323.97L353.66 317.63Z"/>
<path fill="#05070a" stroke="#05070a" stroke-width="0.3" d="M350.5 333.47L353.65 336.63L353.65 342.97L350.5 346.13L347.35 342.97L347.35 336.63Z"/>
<line x1="249.3" y1="417.5" x2="442.7" y2="225.2" stroke="#889ddd" stroke-width="0.95"/>
<line x1="249.3" y1="224" x2="249.3" y2="417.5" stroke="#a6a6a6" stroke-width="1.1"/>
<line x1="248.8" y1="417.5" x2="446.3" y2="417.5" stroke="#b0b0b0" stroke-width="1.5"/>
<line x1="247.3" y1="417.5" x2="249.3" y2="417.5" stroke="#a6a6a6" stroke-width="0.8"/>
<line x1="249.3" y1="417.5" x2="249.3" y2="419.5" stroke="#a6a6a6" stroke-width="0.8"/>
<text x="246.7" y="420.8" font-size="9.2" text-anchor="end">3</text>
<text x="251.7" y="428.3" font-size="9.2" text-anchor="middle">3</text>
<line x1="247.3" y1="389.86" x2="249.3" y2="389.86" stroke="#a6a6a6" stroke-width="0.8"/>
<line x1="277.44" y1="417.5" x2="277.44" y2="419.5" stroke="#a6a6a6" stroke-width="0.8"/>
<text x="246.7" y="393.16" font-size="9.2" text-anchor="end">4</text>
<text x="277.94" y="428.3" font-size="9.2" text-anchor="middle">4</text>
<line x1="247.3" y1="362.21" x2="249.3" y2="362.21" stroke="#a6a6a6" stroke-width="0.8"/>
<line x1="305.59" y1="417.5" x2="305.59" y2="419.5" stroke="#a6a6a6" stroke-width="0.8"/>
<text x="246.7" y="365.51" font-size="9.2" text-anchor="end">5</text>
<text x="306.09" y="428.3" font-size="9.2" text-anchor="middle">5</text>
<line x1="247.3" y1="334.57" x2="249.3" y2="334.57" stroke="#a6a6a6" stroke-width="0.8"/>
<line x1="333.73" y1="417.5" x2="333.73" y2="419.5" stroke="#a6a6a6" stroke-width="0.8"/>
<text x="246.7" y="337.87" font-size="9.2" text-anchor="end">6</text>
<text x="334.23" y="428.3" font-size="9.2" text-anchor="middle">6</text>
<line x1="247.3" y1="306.93" x2="249.3" y2="306.93" stroke="#a6a6a6" stroke-width="0.8"/>
<line x1="361.87" y1="417.5" x2="361.87" y2="419.5" stroke="#a6a6a6" stroke-width="0.8"/>
<text x="246.7" y="310.23" font-size="9.2" text-anchor="end">7</text>
<text x="362.37" y="428.3" font-size="9.2" text-anchor="middle">7</text>
<line x1="247.3" y1="279.29" x2="249.3" y2="279.29" stroke="#a6a6a6" stroke-width="0.8"/>
<line x1="390.01" y1="417.5" x2="390.01" y2="419.5" stroke="#a6a6a6" stroke-width="0.8"/>
<text x="246.7" y="282.59" font-size="9.2" text-anchor="end">8</text>
<text x="390.51" y="428.3" font-size="9.2" text-anchor="middle">8</text>
<line x1="247.3" y1="251.64" x2="249.3" y2="251.64" stroke="#a6a6a6" stroke-width="0.8"/>
<line x1="418.16" y1="417.5" x2="418.16" y2="419.5" stroke="#a6a6a6" stroke-width="0.8"/>
<text x="246.7" y="254.94" font-size="9.2" text-anchor="end">9</text>
<text x="418.66" y="428.3" font-size="9.2" text-anchor="middle">9</text>
<line x1="247.3" y1="224" x2="249.3" y2="224" stroke="#a6a6a6" stroke-width="0.8"/>
<line x1="446.3" y1="417.5" x2="446.3" y2="419.5" stroke="#a6a6a6" stroke-width="0.8"/>
<text x="246.7" y="228.8" font-size="9.2" text-anchor="end">10</text>
<text x="446.8" y="428.3" font-size="9.2" text-anchor="middle">10</text>
<text x="257.8" y="231.5" font-size="9" textLength="17.6" lengthAdjust="spacingAndGlyphs">KNN</text>
<text x="256.5" y="244" font-size="9" textLength="64.3" lengthAdjust="spacingAndGlyphs">Cor. Coef.= 0.48</text>
<text x="256.5" y="255.7" font-size="9" textLength="85.2" lengthAdjust="spacingAndGlyphs">Avg. pred. val. = 6.75</text>
<path fill="#d0e7f7" stroke="#d0e7f7" stroke-width="0.3" d="M565.84 277.47L570.02 280.63L570.02 286.93L565.84 290.09L561.66 286.93L561.66 280.63ZM599.28 277.47L603.46 280.63L603.46 286.93L599.28 290.09L595.1 286.93L595.1 280.63ZM603.46 286.93L607.64 290.09L607.64 296.39L603.46 299.55L599.28 296.39L599.28 290.09ZM549.12 334.23L553.3 337.39L553.3 343.69L549.12 346.85L544.94 343.69L544.94 337.39ZM574.2 334.23L578.38 337.39L578.38 343.69L574.2 346.85L570.02 343.69L570.02 337.39Z"/>
<path fill="#bcdaf2" stroke="#bcdaf2" stroke-width="0.3" d="M561.66 249.09L565.84 252.25L565.84 258.55L561.66 261.71L557.48 258.55L557.48 252.25ZM599.28 258.55L603.46 261.71L603.46 268.01L599.28 271.17L595.1 268.01L595.1 261.71ZM561.66 268.01L565.84 271.17L565.84 277.47L561.66 280.63L557.48 277.47L557.48 271.17ZM595.1 268.01L599.28 271.17L599.28 277.47L595.1 280.63L590.92 277.47L590.92 271.17ZM549.12 277.47L553.3 280.63L553.3 286.93L549.12 290.09L544.94 286.93L544.94 280.63ZM582.56 277.47L586.74 280.63L586.74 286.93L582.56 290.09L578.38 286.93L578.38 280.63ZM486.42 286.93L490.6 290.09L490.6 296.39L486.42 299.55L482.24 296.39L482.24 290.09ZM507.32 296.39L511.5 299.55L511.5 305.85L507.32 309.01L503.14 305.85L503.14 299.55ZM590.92 296.39L595.1 299.55L595.1 305.85L590.92 309.01L586.74 305.85L586.74 299.55ZM599.28 296.39L603.46 299.55L603.46 305.85L599.28 309.01L595.1 305.85L595.1 299.55ZM503.14 305.85L507.32 309.01L507.32 315.31L503.14 318.47L498.96 315.31L498.96 309.01ZM553.3 305.85L557.48 309.01L557.48 315.31L553.3 318.47L549.12 315.31L549.12 309.01ZM507.32 315.31L511.5 318.47L511.5 324.77L507.32 327.93L503.14 324.77L503.14 318.47ZM557.48 315.31L561.66 318.47L561.66 324.77L557.48 327.93L553.3 324.77L553.3 318.47ZM503.14 324.77L507.32 327.93L507.32 334.23L503.14 337.39L498.96 334.23L498.96 327.93ZM544.94 324.77L549.12 327.93L549.12 334.23L544.94 337.39L540.76 334.23L540.76 327.93ZM482.24 334.23L486.42 337.39L486.42 343.69L482.24 346.85L478.06 343.69L478.06 337.39ZM498.96 334.23L503.14 337.39L503.14 343.69L498.96 346.85L494.78 343.69L494.78 337.39ZM507.32 334.23L511.5 337.39L511.5 343.69L507.32 346.85L503.14 343.69L503.14 337.39ZM524.04 334.23L528.22 337.39L528.22 343.69L524.04 346.85L519.86 343.69L519.86 337.39ZM557.48 334.23L561.66 337.39L561.66 343.69L557.48 346.85L553.3 343.69L553.3 337.39ZM590.92 334.23L595.1 337.39L595.1 343.69L590.92 346.85L586.74 343.69L586.74 337.39ZM486.42 343.69L490.6 346.85L490.6 353.15L486.42 356.31L482.24 353.15L482.24 346.85ZM511.5 343.69L515.68 346.85L515.68 353.15L511.5 356.31L507.32 353.15L507.32 346.85ZM561.66 343.69L565.84 346.85L565.84 353.15L561.66 356.31L557.48 353.15L557.48 346.85ZM524.04 353.15L528.22 356.31L528.22 362.61L524.04 365.77L519.86 362.61L519.86 356.31ZM557.48 353.15L561.66 356.31L561.66 362.61L557.48 365.77L553.3 362.61L553.3 356.31ZM574.2 353.15L578.38 356.31L578.38 362.61L574.2 365.77L570.02 362.61L570.02 356.31ZM528.22 362.61L532.4 365.77L532.4 372.07L528.22 375.23L524.04 372.07L524.04 365.77ZM553.3 362.61L557.48 365.77L557.48 372.07L553.3 375.23L549.12 372.07L549.12 365.77ZM586.74 362.61L590.92 365.77L590.92 372.07L586.74 375.23L582.56 372.07L582.56 365.77ZM490.6 372.07L494.78 375.23L494.78 381.53L490.6 384.69L486.42 381.53L486.42 375.23ZM507.32 372.07L511.5 375.23L511.5 381.53L507.32 384.69L503.14 381.53L503.14 375.23ZM532.4 372.07L536.58 375.23L536.58 381.53L532.4 384.69L528.22 381.53L528.22 375.23ZM511.5 381.53L515.68 384.69L515.68 390.99L511.5 394.15L507.32 390.99L507.32 384.69ZM528.22 381.53L532.4 384.69L532.4 390.99L528.22 394.15L524.04 390.99L524.04 384.69ZM536.58 381.53L540.76 384.69L540.76 390.99L536.58 394.15L532.4 390.99L532.4 384.69ZM561.66 381.53L565.84 384.69L565.84 390.99L561.66 394.15L557.48 390.99L557.48 384.69ZM507.32 390.99L511.5 394.15L511.5 400.45L507.32 403.61L503.14 400.45L503.14 394.15ZM515.68 390.99L519.86 394.15L519.86 400.45L515.68 403.61L511.5 400.45L511.5 394.15ZM532.4 390.99L536.58 394.15L536.58 400.45L532.4 403.61L528.22 400.45L528.22 394.15ZM494.78 400.45L498.96 403.61L498.96 409.91L494.78 413.07L490.6 409.91L490.6 403.61ZM528.22 400.45L532.4 403.61L532.4 409.91L528.22 413.07L524.04 409.91L524.04 403.61Z"/>
<path fill="#9ccbef" stroke="#9ccbef" stroke-width="0.3" d="M574.2 277.47L578.38 280.63L578.38 286.93L574.2 290.09L570.02 286.93L570.02 280.63ZM553.3 286.93L557.48 290.09L557.48 296.39L553.3 299.55L549.12 296.39L549.12 290.09ZM524.04 296.39L528.22 299.55L528.22 305.85L524.04 309.01L519.86 305.85L519.86 299.55ZM532.4 296.39L536.58 299.55L536.58 305.85L532.4 309.01L528.22 305.85L528.22 299.55ZM519.86 305.85L524.04 309.01L524.04 315.31L519.86 318.47L515.68 315.31L515.68 309.01ZM528.22 305.85L532.4 309.01L532.4 315.31L528.22 318.47L524.04 315.31L524.04 309.01ZM528.22 324.77L532.4 327.93L532.4 334.23L528.22 337.39L524.04 334.23L524.04 327.93ZM532.4 334.23L536.58 337.39L536.58 343.69L532.4 346.85L528.22 343.69L528.22 337.39ZM540.76 334.23L544.94 337.39L544.94 343.69L540.76 346.85L536.58 343.69L536.58 337.39ZM540.76 353.15L544.94 356.31L544.94 362.61L540.76 365.77L536.58 362.61L536.58 356.31ZM544.94 362.61L549.12 365.77L549.12 372.07L544.94 375.23L540.76 372.07L540.76 365.77ZM524.04 372.07L528.22 375.23L528.22 381.53L524.04 384.69L519.86 381.53L519.86 375.23Z"/>
<path fill="#6cb2e4" stroke="#6cb2e4" stroke-width="0.3" d="M503.14 286.93L507.32 290.09L507.32 296.39L503.14 299.55L498.96 296.39L498.96 290.09ZM549.12 296.39L553.3 299.55L553.3 305.85L549.12 309.01L544.94 305.85L544.94 299.55ZM536.58 305.85L540.76 309.01L540.76 315.31L536.58 318.47L532.4 315.31L532.4 309.01ZM524.04 315.31L528.22 318.47L528.22 324.77L524.04 327.93L519.86 324.77L519.86 318.47ZM532.4 315.31L536.58 318.47L536.58 324.77L532.4 327.93L528.22 324.77L528.22 318.47ZM549.12 315.31L553.3 318.47L553.3 324.77L549.12 327.93L544.94 324.77L544.94 318.47ZM590.92 315.31L595.1 318.47L595.1 324.77L590.92 327.93L586.74 324.77L586.74 318.47ZM599.28 315.31L603.46 318.47L603.46 324.77L599.28 327.93L595.1 324.77L595.1 318.47ZM586.74 324.77L590.92 327.93L590.92 334.23L586.74 337.39L582.56 334.23L582.56 327.93ZM595.1 324.77L599.28 327.93L599.28 334.23L595.1 337.39L590.92 334.23L590.92 327.93ZM582.56 334.23L586.74 337.39L586.74 343.69L582.56 346.85L578.38 343.69L578.38 337.39ZM544.94 343.69L549.12 346.85L549.12 353.15L544.94 356.31L540.76 353.15L540.76 346.85ZM511.5 362.61L515.68 365.77L515.68 372.07L511.5 375.23L507.32 372.07L507.32 365.77Z"/>
<path fill="#3891da" stroke="#3891da" stroke-width="0.3" d="M544.94 286.93L549.12 290.09L549.12 296.39L544.94 299.55L540.76 296.39L540.76 290.09ZM561.66 286.93L565.84 290.09L565.84 296.39L561.66 299.55L557.48 296.39L557.48 290.09ZM570.02 286.93L574.2 290.09L574.2 296.39L570.02 299.55L565.84 296.39L565.84 290.09ZM595.1 286.93L599.28 290.09L599.28 296.39L595.1 299.55L590.92 296.39L590.92 290.09ZM540.76 296.39L544.94 299.55L544.94 305.85L540.76 309.01L536.58 305.85L536.58 299.55ZM544.94 305.85L549.12 309.01L549.12 315.31L544.94 318.47L540.76 315.31L540.76 309.01ZM570.02 305.85L574.2 309.01L574.2 315.31L570.02 318.47L565.84 315.31L565.84 309.01ZM578.38 305.85L582.56 309.01L582.56 315.31L578.38 318.47L574.2 315.31L574.2 309.01ZM511.5 324.77L515.68 327.93L515.68 334.23L511.5 337.39L507.32 334.23L507.32 327.93ZM536.58 324.77L540.76 327.93L540.76 334.23L536.58 337.39L532.4 334.23L532.4 327.93ZM570.02 324.77L574.2 327.93L574.2 334.23L570.02 337.39L565.84 334.23L565.84 327.93ZM519.86 343.69L524.04 346.85L524.04 353.15L519.86 356.31L515.68 353.15L515.68 346.85ZM570.02 343.69L574.2 346.85L574.2 353.15L570.02 356.31L565.84 353.15L565.84 346.85ZM549.12 353.15L553.3 356.31L553.3 362.61L549.12 365.77L544.94 362.61L544.94 356.31ZM519.86 362.61L524.04 365.77L524.04 372.07L519.86 375.23L515.68 372.07L515.68 365.77ZM536.58 362.61L540.76 365.77L540.76 372.07L536.58 375.23L532.4 372.07L532.4 365.77ZM540.76 372.07L544.94 375.23L544.94 381.53L540.76 384.69L536.58 381.53L536.58 375.23ZM519.86 381.53L524.04 384.69L524.04 390.99L519.86 394.15L515.68 390.99L515.68 384.69Z"/>
<path fill="#21679c" stroke="#21679c" stroke-width="0.3" d="M557.48 277.47L561.66 280.63L561.66 286.93L557.48 290.09L553.3 286.93L553.3 280.63ZM586.74 286.93L590.92 290.09L590.92 296.39L586.74 299.55L582.56 296.39L582.56 290.09ZM582.56 296.39L586.74 299.55L586.74 305.85L582.56 309.01L578.38 305.85L578.38 299.55ZM553.3 324.77L557.48 327.93L557.48 334.23L553.3 337.39L549.12 334.23L549.12 327.93ZM561.66 324.77L565.84 327.93L565.84 334.23L561.66 337.39L557.48 334.23L557.48 327.93ZM565.84 334.23L570.02 337.39L570.02 343.69L565.84 346.85L561.66 343.69L561.66 337.39ZM553.3 343.69L557.48 346.85L557.48 353.15L553.3 356.31L549.12 353.15L549.12 346.85Z"/>
<path fill="#1b4a7a" stroke="#1b4a7a" stroke-width="0.3" d="M565.84 296.39L570.02 299.55L570.02 305.85L565.84 309.01L561.66 305.85L561.66 299.55ZM565.84 315.31L570.02 318.47L570.02 324.77L565.84 327.93L561.66 324.77L561.66 318.47ZM578.38 324.77L582.56 327.93L582.56 334.23L578.38 337.39L574.2 334.23L574.2 327.93Z"/>
<path fill="#0d2438" stroke="#0d2438" stroke-width="0.3" d="M578.38 286.93L582.56 290.09L582.56 296.39L578.38 299.55L574.2 296.39L574.2 290.09ZM557.48 296.39L561.66 299.55L561.66 305.85L557.48 309.01L553.3 305.85L553.3 299.55ZM561.66 305.85L565.84 309.01L565.84 315.31L561.66 318.47L557.48 315.31L557.48 309.01ZM586.74 305.85L590.92 309.01L590.92 315.31L586.74 318.47L582.56 315.31L582.56 309.01ZM574.2 315.31L578.38 318.47L578.38 324.77L574.2 327.93L570.02 324.77L570.02 318.47ZM582.56 315.31L586.74 318.47L586.74 324.77L582.56 327.93L578.38 324.77L578.38 318.47Z"/>
<path fill="#05070a" stroke="#05070a" stroke-width="0.3" d="M574.2 296.39L578.38 299.55L578.38 305.85L574.2 309.01L570.02 305.85L570.02 299.55Z"/>
<line x1="466.3" y1="417.8" x2="659.5" y2="225.3" stroke="#889ddd" stroke-width="0.95"/>
<line x1="466.3" y1="226.1" x2="466.3" y2="417.8" stroke="#a6a6a6" stroke-width="1.1"/>
<line x1="465.8" y1="417.8" x2="664.4" y2="417.8" stroke="#b0b0b0" stroke-width="1.5"/>
<line x1="464.3" y1="417.8" x2="466.3" y2="417.8" stroke="#a6a6a6" stroke-width="0.8"/>
<line x1="466.3" y1="417.8" x2="466.3" y2="419.8" stroke="#a6a6a6" stroke-width="0.8"/>
<text x="463.7" y="421.1" font-size="9.2" text-anchor="end">3</text>
<text x="468.7" y="428.6" font-size="9.2" text-anchor="middle">3</text>
<line x1="464.3" y1="390.41" x2="466.3" y2="390.41" stroke="#a6a6a6" stroke-width="0.8"/>
<line x1="494.6" y1="417.8" x2="494.6" y2="419.8" stroke="#a6a6a6" stroke-width="0.8"/>
<text x="463.7" y="393.71" font-size="9.2" text-anchor="end">4</text>
<text x="495.1" y="428.6" font-size="9.2" text-anchor="middle">4</text>
<line x1="464.3" y1="363.03" x2="466.3" y2="363.03" stroke="#a6a6a6" stroke-width="0.8"/>
<line x1="522.9" y1="417.8" x2="522.9" y2="419.8" stroke="#a6a6a6" stroke-width="0.8"/>
<text x="463.7" y="366.33" font-size="9.2" text-anchor="end">5</text>
<text x="523.4" y="428.6" font-size="9.2" text-anchor="middle">5</text>
<line x1="464.3" y1="335.64" x2="466.3" y2="335.64" stroke="#a6a6a6" stroke-width="0.8"/>
<line x1="551.2" y1="417.8" x2="551.2" y2="419.8" stroke="#a6a6a6" stroke-width="0.8"/>
<text x="463.7" y="338.94" font-size="9.2" text-anchor="end">6</text>
<text x="551.7" y="428.6" font-size="9.2" text-anchor="middle">6</text>
<line x1="464.3" y1="308.26" x2="466.3" y2="308.26" stroke="#a6a6a6" stroke-width="0.8"/>
<line x1="579.5" y1="417.8" x2="579.5" y2="419.8" stroke="#a6a6a6" stroke-width="0.8"/>
<text x="463.7" y="311.56" font-size="9.2" text-anchor="end">7</text>
<text x="580" y="428.6" font-size="9.2" text-anchor="middle">7</text>
<line x1="464.3" y1="280.87" x2="466.3" y2="280.87" stroke="#a6a6a6" stroke-width="0.8"/>
<line x1="607.8" y1="417.8" x2="607.8" y2="419.8" stroke="#a6a6a6" stroke-width="0.8"/>
<text x="463.7" y="284.17" font-size="9.2" text-anchor="end">8</text>
<text x="608.3" y="428.6" font-size="9.2" text-anchor="middle">8</text>
<line x1="464.3" y1="253.49" x2="466.3" y2="253.49" stroke="#a6a6a6" stroke-width="0.8"/>
<line x1="636.1" y1="417.8" x2="636.1" y2="419.8" stroke="#a6a6a6" stroke-width="0.8"/>
<text x="463.7" y="256.79" font-size="9.2" text-anchor="end">9</text>
<text x="636.6" y="428.6" font-size="9.2" text-anchor="middle">9</text>
<line x1="464.3" y1="226.1" x2="466.3" y2="226.1" stroke="#a6a6a6" stroke-width="0.8"/>
<line x1="664.4" y1="417.8" x2="664.4" y2="419.8" stroke="#a6a6a6" stroke-width="0.8"/>
<text x="463.7" y="230.9" font-size="9.2" text-anchor="end">10</text>
<text x="664.9" y="428.6" font-size="9.2" text-anchor="middle">10</text>
<text x="475.5" y="232.4" font-size="9" textLength="69.5" lengthAdjust="spacingAndGlyphs">Lasso Regression</text>
<text x="475.5" y="244.3" font-size="9" textLength="63.9" lengthAdjust="spacingAndGlyphs">Cor. Coef.= 0.47</text>
<text x="475.5" y="256.6" font-size="9" textLength="85.9" lengthAdjust="spacingAndGlyphs">Avg. pred. val. = 5.75</text>
<path fill="#d0e7f7" stroke="#d0e7f7" stroke-width="0.3" d="M105.22 465.41L109.33 468.54L109.33 474.78L105.22 477.91L101.11 474.78L101.11 468.54ZM142.21 474.78L146.32 477.91L146.32 484.15L142.21 487.28L138.1 484.15L138.1 477.91ZM125.77 493.52L129.88 496.65L129.88 502.89L125.77 506.02L121.66 502.89L121.66 496.65ZM133.99 512.26L138.1 515.39L138.1 521.63L133.99 524.76L129.88 521.63L129.88 515.39ZM138.1 521.63L142.21 524.76L142.21 531L138.1 534.13L133.99 531L133.99 524.76ZM64.12 540.37L68.23 543.5L68.23 549.74L64.12 552.87L60.01 549.74L60.01 543.5ZM72.34 540.37L76.45 543.5L76.45 549.74L72.34 552.87L68.23 549.74L68.23 543.5ZM138.1 540.37L142.21 543.5L142.21 549.74L138.1 552.87L133.99 549.74L133.99 543.5ZM51.79 549.74L55.9 552.87L55.9 559.11L51.79 562.24L47.68 559.11L47.68 552.87ZM60.01 549.74L64.12 552.87L64.12 559.11L60.01 562.24L55.9 559.11L55.9 552.87ZM68.23 549.74L72.34 552.87L72.34 559.11L68.23 562.24L64.12 559.11L64.12 552.87ZM133.99 549.74L138.1 552.87L138.1 559.11L133.99 562.24L129.88 559.11L129.88 552.87ZM72.34 559.11L76.45 562.24L76.45 568.48L72.34 571.61L68.23 568.48L68.23 562.24ZM113.44 559.11L117.55 562.24L117.55 568.48L113.44 571.61L109.33 568.48L109.33 562.24ZM68.23 587.22L72.34 590.35L72.34 596.59L68.23 599.72L64.12 596.59L64.12 590.35ZM76.45 587.22L80.56 590.35L80.56 596.59L76.45 599.72L72.34 596.59L72.34 590.35ZM64.12 596.59L68.23 599.72L68.23 605.96L64.12 609.09L60.01 605.96L60.01 599.72ZM68.23 605.96L72.34 609.09L72.34 615.33L68.23 618.46L64.12 615.33L64.12 609.09Z"/>
<path fill="#bcdaf2" stroke="#bcdaf2" stroke-width="0.3" d="M105.22 484.15L109.33 487.28L109.33 493.52L105.22 496.65L101.11 493.52L101.11 487.28ZM129.88 484.15L133.99 487.28L133.99 493.52L129.88 496.65L125.77 493.52L125.77 487.28ZM142.21 493.52L146.32 496.65L146.32 502.89L142.21 506.02L138.1 502.89L138.1 496.65ZM31.24 502.89L35.35 506.02L35.35 512.26L31.24 515.39L27.13 512.26L27.13 506.02ZM47.68 502.89L51.79 506.02L51.79 512.26L47.68 515.39L43.57 512.26L43.57 506.02ZM55.9 502.89L60.01 506.02L60.01 512.26L55.9 515.39L51.79 512.26L51.79 506.02ZM60.01 512.26L64.12 515.39L64.12 521.63L60.01 524.76L55.9 521.63L55.9 515.39ZM76.45 512.26L80.56 515.39L80.56 521.63L76.45 524.76L72.34 521.63L72.34 515.39ZM47.68 521.63L51.79 524.76L51.79 531L47.68 534.13L43.57 531L43.57 524.76ZM60.01 531L64.12 534.13L64.12 540.37L60.01 543.5L55.9 540.37L55.9 534.13ZM133.99 531L138.1 534.13L138.1 540.37L133.99 543.5L129.88 540.37L129.88 534.13ZM47.68 540.37L51.79 543.5L51.79 549.74L47.68 552.87L43.57 549.74L43.57 543.5ZM35.35 549.74L39.46 552.87L39.46 559.11L35.35 562.24L31.24 559.11L31.24 552.87ZM84.67 549.74L88.78 552.87L88.78 559.11L84.67 562.24L80.56 559.11L80.56 552.87ZM125.77 549.74L129.88 552.87L129.88 559.11L125.77 562.24L121.66 559.11L121.66 552.87ZM31.24 559.11L35.35 562.24L35.35 568.48L31.24 571.61L27.13 568.48L27.13 562.24ZM84.67 568.48L88.78 571.61L88.78 577.85L84.67 580.98L80.56 577.85L80.56 571.61ZM92.89 568.48L97 571.61L97 577.85L92.89 580.98L88.78 577.85L88.78 571.61ZM80.56 577.85L84.67 580.98L84.67 587.22L80.56 590.35L76.45 587.22L76.45 580.98ZM129.88 577.85L133.99 580.98L133.99 587.22L129.88 590.35L125.77 587.22L125.77 580.98ZM43.57 587.22L47.68 590.35L47.68 596.59L43.57 599.72L39.46 596.59L39.46 590.35ZM97 596.59L101.11 599.72L101.11 605.96L97 609.09L92.89 605.96L92.89 599.72ZM39.46 615.33L43.57 618.46L43.57 624.7L39.46 627.83L35.35 624.7L35.35 618.46ZM72.34 615.33L76.45 618.46L76.45 624.7L72.34 627.83L68.23 624.7L68.23 618.46Z"/>
<path fill="#9ccbef" stroke="#9ccbef" stroke-width="0.3" d="M92.89 493.52L97 496.65L97 502.89L92.89 506.02L88.78 502.89L88.78 496.65ZM101.11 493.52L105.22 496.65L105.22 502.89L101.11 506.02L97 502.89L97 496.65ZM109.33 493.52L113.44 496.65L113.44 502.89L109.33 506.02L105.22 502.89L105.22 496.65ZM117.55 493.52L121.66 496.65L121.66 502.89L117.55 506.02L113.44 502.89L113.44 496.65ZM80.56 502.89L84.67 506.02L84.67 512.26L80.56 515.39L76.45 512.26L76.45 506.02ZM97 502.89L101.11 506.02L101.11 512.26L97 515.39L92.89 512.26L92.89 506.02ZM105.22 502.89L109.33 506.02L109.33 512.26L105.22 515.39L101.11 512.26L101.11 506.02ZM80.56 521.63L84.67 524.76L84.67 531L80.56 534.13L76.45 531L76.45 524.76ZM88.78 521.63L92.89 524.76L92.89 531L88.78 534.13L84.67 531L84.67 524.76ZM76.45 531L80.56 534.13L80.56 540.37L76.45 543.5L72.34 540.37L72.34 534.13ZM101.11 531L105.22 534.13L105.22 540.37L101.11 543.5L97 540.37L97 534.13ZM109.33 531L113.44 534.13L113.44 540.37L109.33 543.5L105.22 540.37L105.22 534.13ZM55.9 540.37L60.01 543.5L60.01 549.74L55.9 552.87L51.79 549.74L51.79 543.5ZM80.56 540.37L84.67 543.5L84.67 549.74L80.56 552.87L76.45 549.74L76.45 543.5ZM88.78 540.37L92.89 543.5L92.89 549.74L88.78 552.87L84.67 549.74L84.67 543.5ZM113.44 540.37L117.55 543.5L117.55 549.74L113.44 552.87L109.33 549.74L109.33 543.5ZM92.89 549.74L97 552.87L97 559.11L92.89 562.24L88.78 559.11L88.78 552.87ZM101.11 549.74L105.22 552.87L105.22 559.11L101.11 562.24L97 559.11L97 552.87ZM64.12 559.11L68.23 562.24L68.23 568.48L64.12 571.61L60.01 568.48L60.01 562.24ZM97 559.11L101.11 562.24L101.11 568.48L97 571.61L92.89 568.48L92.89 562.24ZM101.11 568.48L105.22 571.61L105.22 577.85L101.11 580.98L97 577.85L97 571.61ZM55.9 577.85L60.01 580.98L60.01 587.22L55.9 590.35L51.79 587.22L51.79 580.98ZM72.34 577.85L76.45 580.98L76.45 587.22L72.34 590.35L68.23 587.22L68.23 580.98ZM72.34 596.59L76.45 599.72L76.45 605.96L72.34 609.09L68.23 605.96L68.23 599.72ZM60.01 605.96L64.12 609.09L64.12 615.33L60.01 618.46L55.9 615.33L55.9 609.09Z"/>
<path fill="#6cb2e4" stroke="#6cb2e4" stroke-width="0.3" d="M129.88 502.89L133.99 506.02L133.99 512.26L129.88 515.39L125.77 512.26L125.77 506.02ZM72.34 521.63L76.45 524.76L76.45 531L72.34 534.13L68.23 531L68.23 524.76ZM68.23 531L72.34 534.13L72.34 540.37L68.23 543.5L64.12 540.37L64.12 534.13ZM142.21 531L146.32 534.13L146.32 540.37L142.21 543.5L138.1 540.37L138.1 534.13ZM76.45 568.48L80.56 571.61L80.56 577.85L76.45 580.98L72.34 577.85L72.34 571.61ZM64.12 577.85L68.23 580.98L68.23 587.22L64.12 590.35L60.01 587.22L60.01 580.98ZM88.78 577.85L92.89 580.98L92.89 587.22L88.78 590.35L84.67 587.22L84.67 580.98Z"/>
<path fill="#3891da" stroke="#3891da" stroke-width="0.3" d="M88.78 502.89L92.89 506.02L92.89 512.26L88.78 515.39L84.67 512.26L84.67 506.02ZM113.44 502.89L117.55 506.02L117.55 512.26L113.44 515.39L109.33 512.26L109.33 506.02ZM138.1 502.89L142.21 506.02L142.21 512.26L138.1 515.39L133.99 512.26L133.99 506.02ZM68.23 512.26L72.34 515.39L72.34 521.63L68.23 524.76L64.12 521.63L64.12 515.39ZM84.67 512.26L88.78 515.39L88.78 521.63L84.67 524.76L80.56 521.63L80.56 515.39ZM92.89 512.26L97 515.39L97 521.63L92.89 524.76L88.78 521.63L88.78 515.39ZM125.77 512.26L129.88 515.39L129.88 521.63L125.77 524.76L121.66 521.63L121.66 515.39ZM105.22 521.63L109.33 524.76L109.33 531L105.22 534.13L101.11 531L101.11 524.76ZM113.44 521.63L117.55 524.76L117.55 531L113.44 534.13L109.33 531L109.33 524.76ZM121.66 521.63L125.77 524.76L125.77 531L121.66 534.13L117.55 531L117.55 524.76ZM92.89 531L97 534.13L97 540.37L92.89 543.5L88.78 540.37L88.78 534.13ZM105.22 540.37L109.33 543.5L109.33 549.74L105.22 552.87L101.11 549.74L101.11 543.5ZM121.66 540.37L125.77 543.5L125.77 549.74L121.66 552.87L117.55 549.74L117.55 543.5ZM129.88 540.37L133.99 543.5L133.99 549.74L129.88 552.87L125.77 549.74L125.77 543.5ZM76.45 549.74L80.56 552.87L80.56 559.11L76.45 562.24L72.34 559.11L72.34 552.87ZM117.55 549.74L121.66 552.87L121.66 559.11L117.55 562.24L113.44 559.11L113.44 552.87ZM84.67 587.22L88.78 590.35L88.78 596.59L84.67 599.72L80.56 596.59L80.56 590.35ZM80.56 596.59L84.67 599.72L84.67 605.96L80.56 609.09L76.45 605.96L76.45 599.72Z"/>
<path fill="#21679c" stroke="#21679c" stroke-width="0.3" d="M109.33 512.26L113.44 515.39L113.44 521.63L109.33 524.76L105.22 521.63L105.22 515.39ZM97 521.63L101.11 524.76L101.11 531L97 534.13L92.89 531L92.89 524.76ZM129.88 521.63L133.99 524.76L133.99 531L129.88 534.13L125.77 531L125.77 524.76ZM88.78 559.11L92.89 562.24L92.89 568.48L88.78 571.61L84.67 568.48L84.67 562.24ZM105.22 559.11L109.33 562.24L109.33 568.48L105.22 571.61L101.11 568.48L101.11 562.24Z"/>
<path fill="#1b4a7a" stroke="#1b4a7a" stroke-width="0.3" d="M121.66 502.89L125.77 506.02L125.77 512.26L121.66 515.39L117.55 512.26L117.55 506.02ZM101.11 512.26L105.22 515.39L105.22 521.63L101.11 524.76L97 521.63L97 515.39ZM117.55 512.26L121.66 515.39L121.66 521.63L117.55 524.76L113.44 521.63L113.44 515.39ZM97 540.37L101.11 543.5L101.11 549.74L97 552.87L92.89 549.74L92.89 543.5Z"/>
<path fill="#0d2438" stroke="#0d2438" stroke-width="0.3" d="M125.77 531L129.88 534.13L129.88 540.37L125.77 543.5L121.66 540.37L121.66 534.13Z"/>
<path fill="#05070a" stroke="#05070a" stroke-width="0.3" d="M117.55 531L121.66 534.13L121.66 540.37L117.55 543.5L113.44 540.37L113.44 534.13Z"/>
<line x1="31.3" y1="632.4" x2="221.4" y2="442" stroke="#889ddd" stroke-width="0.95"/>
<line x1="31.3" y1="442.6" x2="31.3" y2="632.4" stroke="#a6a6a6" stroke-width="1.1"/>
<line x1="30.8" y1="632.4" x2="224.2" y2="632.4" stroke="#b0b0b0" stroke-width="1.5"/>
<line x1="29.3" y1="632.4" x2="31.3" y2="632.4" stroke="#a6a6a6" stroke-width="0.8"/>
<line x1="31.3" y1="632.4" x2="31.3" y2="634.4" stroke="#a6a6a6" stroke-width="0.8"/>
<text x="28.7" y="635.7" font-size="9.2" text-anchor="end">3</text>
<text x="33.7" y="643.2" font-size="9.2" text-anchor="middle">3</text>
<line x1="29.3" y1="605.29" x2="31.3" y2="605.29" stroke="#a6a6a6" stroke-width="0.8"/>
<line x1="58.86" y1="632.4" x2="58.86" y2="634.4" stroke="#a6a6a6" stroke-width="0.8"/>
<text x="28.7" y="608.59" font-size="9.2" text-anchor="end">4</text>
<text x="59.36" y="643.2" font-size="9.2" text-anchor="middle">4</text>
<line x1="29.3" y1="578.17" x2="31.3" y2="578.17" stroke="#a6a6a6" stroke-width="0.8"/>
<line x1="86.41" y1="632.4" x2="86.41" y2="634.4" stroke="#a6a6a6" stroke-width="0.8"/>
<text x="28.7" y="581.47" font-size="9.2" text-anchor="end">5</text>
<text x="86.91" y="643.2" font-size="9.2" text-anchor="middle">5</text>
<line x1="29.3" y1="551.06" x2="31.3" y2="551.06" stroke="#a6a6a6" stroke-width="0.8"/>
<line x1="113.97" y1="632.4" x2="113.97" y2="634.4" stroke="#a6a6a6" stroke-width="0.8"/>
<text x="28.7" y="554.36" font-size="9.2" text-anchor="end">6</text>
<text x="114.47" y="643.2" font-size="9.2" text-anchor="middle">6</text>
<line x1="29.3" y1="523.94" x2="31.3" y2="523.94" stroke="#a6a6a6" stroke-width="0.8"/>
<line x1="141.53" y1="632.4" x2="141.53" y2="634.4" stroke="#a6a6a6" stroke-width="0.8"/>
<text x="28.7" y="527.24" font-size="9.2" text-anchor="end">7</text>
<text x="142.03" y="643.2" font-size="9.2" text-anchor="middle">7</text>
<line x1="29.3" y1="496.83" x2="31.3" y2="496.83" stroke="#a6a6a6" stroke-width="0.8"/>
<line x1="169.09" y1="632.4" x2="169.09" y2="634.4" stroke="#a6a6a6" stroke-width="0.8"/>
<text x="28.7" y="500.13" font-size="9.2" text-anchor="end">8</text>
<text x="169.59" y="643.2" font-size="9.2" text-anchor="middle">8</text>
<line x1="29.3" y1="469.71" x2="31.3" y2="469.71" stroke="#a6a6a6" stroke-width="0.8"/>
<line x1="196.64" y1="632.4" x2="196.64" y2="634.4" stroke="#a6a6a6" stroke-width="0.8"/>
<text x="28.7" y="473.01" font-size="9.2" text-anchor="end">9</text>
<text x="197.14" y="643.2" font-size="9.2" text-anchor="middle">9</text>
<line x1="29.3" y1="442.6" x2="31.3" y2="442.6" stroke="#a6a6a6" stroke-width="0.8"/>
<line x1="224.2" y1="632.4" x2="224.2" y2="634.4" stroke="#a6a6a6" stroke-width="0.8"/>
<text x="28.7" y="447.4" font-size="9.2" text-anchor="end">10</text>
<text x="224.7" y="643.2" font-size="9.2" text-anchor="middle">10</text>
<text x="38.2" y="449.2" font-size="9" textLength="68.8" lengthAdjust="spacingAndGlyphs">Ridge Regression</text>
<text x="38.2" y="461.4" font-size="9" textLength="63.2" lengthAdjust="spacingAndGlyphs">Cor. Coef.= 0.44</text>
<text x="38.2" y="473.7" font-size="9" textLength="84.5" lengthAdjust="spacingAndGlyphs">Avg. pred. val. = 5.45</text>
<path fill="#d0e7f7" stroke="#d0e7f7" stroke-width="0.3" d="M403.8 463.57L408.1 466.73L408.1 473.07L403.8 476.23L399.5 473.07L399.5 466.73ZM382.3 473.07L386.6 476.23L386.6 482.57L382.3 485.73L378 482.57L378 476.23ZM386.6 482.57L390.9 485.73L390.9 492.07L386.6 495.23L382.3 492.07L382.3 485.73ZM403.8 482.57L408.1 485.73L408.1 492.07L403.8 495.23L399.5 492.07L399.5 485.73ZM330.7 492.07L335 495.23L335 501.57L330.7 504.73L326.4 501.57L326.4 495.23ZM390.9 492.07L395.2 495.23L395.2 501.57L390.9 504.73L386.6 501.57L386.6 495.23ZM399.5 492.07L403.8 495.23L403.8 501.57L399.5 504.73L395.2 501.57L395.2 495.23ZM309.2 501.57L313.5 504.73L313.5 511.07L309.2 514.23L304.9 511.07L304.9 504.73ZM317.8 501.57L322.1 504.73L322.1 511.07L317.8 514.23L313.5 511.07L313.5 504.73ZM326.4 501.57L330.7 504.73L330.7 511.07L326.4 514.23L322.1 511.07L322.1 504.73ZM360.8 501.57L365.1 504.73L365.1 511.07L360.8 514.23L356.5 511.07L356.5 504.73ZM313.5 511.07L317.8 514.23L317.8 520.57L313.5 523.73L309.2 520.57L309.2 514.23ZM330.7 511.07L335 514.23L335 520.57L330.7 523.73L326.4 520.57L326.4 514.23ZM317.8 520.57L322.1 523.73L322.1 530.07L317.8 533.23L313.5 530.07L313.5 523.73ZM313.5 530.07L317.8 533.23L317.8 539.57L313.5 542.73L309.2 539.57L309.2 533.23ZM330.7 530.07L335 533.23L335 539.57L330.7 542.73L326.4 539.57L326.4 533.23ZM369.4 539.57L373.7 542.73L373.7 549.07L369.4 552.23L365.1 549.07L365.1 542.73ZM296.3 549.07L300.6 552.23L300.6 558.57L296.3 561.73L292 558.57L292 552.23ZM304.9 549.07L309.2 552.23L309.2 558.57L304.9 561.73L300.6 558.57L300.6 552.23ZM313.5 549.07L317.8 552.23L317.8 558.57L313.5 561.73L309.2 558.57L309.2 552.23ZM292 558.57L296.3 561.73L296.3 568.07L292 571.23L287.7 568.07L287.7 561.73ZM309.2 558.57L313.5 561.73L313.5 568.07L309.2 571.23L304.9 568.07L304.9 561.73ZM326.4 558.57L330.7 561.73L330.7 568.07L326.4 571.23L322.1 568.07L322.1 561.73ZM339.3 568.07L343.6 571.23L343.6 577.57L339.3 580.73L335 577.57L335 571.23ZM292 577.57L296.3 580.73L296.3 587.07L292 590.23L287.7 587.07L287.7 580.73ZM317.8 577.57L322.1 580.73L322.1 587.07L317.8 590.23L313.5 587.07L313.5 580.73ZM279.1 587.07L283.4 590.23L283.4 596.57L279.1 599.73L274.8 596.57L274.8 590.23ZM287.7 587.07L292 590.23L292 596.57L287.7 599.73L283.4 596.57L283.4 590.23ZM292 596.57L296.3 599.73L296.3 606.07L292 609.23L287.7 606.07L287.7 599.73ZM300.6 596.57L304.9 599.73L304.9 606.07L300.6 609.23L296.3 606.07L296.3 599.73ZM309.2 596.57L313.5 599.73L313.5 606.07L309.2 609.23L304.9 606.07L304.9 599.73ZM335 596.57L339.3 599.73L339.3 606.07L335 609.23L330.7 606.07L330.7 599.73ZM287.7 606.07L292 609.23L292 615.57L287.7 618.73L283.4 615.57L283.4 609.23ZM296.3 606.07L300.6 609.23L300.6 615.57L296.3 618.73L292 615.57L292 609.23ZM339.3 606.07L343.6 609.23L343.6 615.57L339.3 618.73L335 615.57L335 609.23ZM274.8 615.57L279.1 618.73L279.1 625.07L274.8 628.23L270.5 625.07L270.5 618.73ZM335 615.57L339.3 618.73L339.3 625.07L335 628.23L330.7 625.07L330.7 618.73Z"/>
<path fill="#bcdaf2" stroke="#bcdaf2" stroke-width="0.3" d="M356.5 492.07L360.8 495.23L360.8 501.57L356.5 504.73L352.2 501.57L352.2 495.23ZM369.4 501.57L373.7 504.73L373.7 511.07L369.4 514.23L365.1 511.07L365.1 504.73ZM386.6 501.57L390.9 504.73L390.9 511.07L386.6 514.23L382.3 511.07L382.3 504.73ZM395.2 501.57L399.5 504.73L399.5 511.07L395.2 514.23L390.9 511.07L390.9 504.73ZM373.7 511.07L378 514.23L378 520.57L373.7 523.73L369.4 520.57L369.4 514.23ZM382.3 511.07L386.6 514.23L386.6 520.57L382.3 523.73L378 520.57L378 514.23ZM326.4 520.57L330.7 523.73L330.7 530.07L326.4 533.23L322.1 530.07L322.1 523.73ZM369.4 520.57L373.7 523.73L373.7 530.07L369.4 533.23L365.1 530.07L365.1 523.73ZM378 520.57L382.3 523.73L382.3 530.07L378 533.23L373.7 530.07L373.7 523.73ZM322.1 530.07L326.4 533.23L326.4 539.57L322.1 542.73L317.8 539.57L317.8 533.23ZM317.8 539.57L322.1 542.73L322.1 549.07L317.8 552.23L313.5 549.07L313.5 542.73ZM347.9 549.07L352.2 552.23L352.2 558.57L347.9 561.73L343.6 558.57L343.6 552.23ZM356.5 549.07L360.8 552.23L360.8 558.57L356.5 561.73L352.2 558.57L352.2 552.23ZM352.2 558.57L356.5 561.73L356.5 568.07L352.2 571.23L347.9 568.07L347.9 561.73ZM309.2 577.57L313.5 580.73L313.5 587.07L309.2 590.23L304.9 587.07L304.9 580.73ZM317.8 596.57L322.1 599.73L322.1 606.07L317.8 609.23L313.5 606.07L313.5 599.73Z"/>
<path fill="#9ccbef" stroke="#9ccbef" stroke-width="0.3" d="M339.3 492.07L343.6 495.23L343.6 501.57L339.3 504.73L335 501.57L335 495.23ZM322.1 511.07L326.4 514.23L326.4 520.57L322.1 523.73L317.8 520.57L317.8 514.23ZM356.5 511.07L360.8 514.23L360.8 520.57L356.5 523.73L352.2 520.57L352.2 514.23ZM309.2 539.57L313.5 542.73L313.5 549.07L309.2 552.23L304.9 549.07L304.9 542.73ZM326.4 539.57L330.7 542.73L330.7 549.07L326.4 552.23L322.1 549.07L322.1 542.73ZM335 558.57L339.3 561.73L339.3 568.07L335 571.23L330.7 568.07L330.7 561.73ZM356.5 568.07L360.8 571.23L360.8 577.57L356.5 580.73L352.2 577.57L352.2 571.23ZM300.6 577.57L304.9 580.73L304.9 587.07L300.6 590.23L296.3 587.07L296.3 580.73ZM326.4 577.57L330.7 580.73L330.7 587.07L326.4 590.23L322.1 587.07L322.1 580.73ZM335 577.57L339.3 580.73L339.3 587.07L335 590.23L330.7 587.07L330.7 580.73ZM343.6 577.57L347.9 580.73L347.9 587.07L343.6 590.23L339.3 587.07L339.3 580.73ZM330.7 587.07L335 590.23L335 596.57L330.7 599.73L326.4 596.57L326.4 590.23ZM283.4 596.57L287.7 599.73L287.7 606.07L283.4 609.23L279.1 606.07L279.1 599.73Z"/>
<path fill="#6cb2e4" stroke="#6cb2e4" stroke-width="0.3" d="M373.7 492.07L378 495.23L378 501.57L373.7 504.73L369.4 501.57L369.4 495.23ZM382.3 492.07L386.6 495.23L386.6 501.57L382.3 504.73L378 501.57L378 495.23ZM343.6 501.57L347.9 504.73L347.9 511.07L343.6 514.23L339.3 511.07L339.3 504.73ZM360.8 539.57L365.1 542.73L365.1 549.07L360.8 552.23L356.5 549.07L356.5 542.73ZM300.6 558.57L304.9 561.73L304.9 568.07L300.6 571.23L296.3 568.07L296.3 561.73ZM317.8 558.57L322.1 561.73L322.1 568.07L317.8 571.23L313.5 568.07L313.5 561.73ZM322.1 568.07L326.4 571.23L326.4 577.57L322.1 580.73L317.8 577.57L317.8 571.23ZM304.9 587.07L309.2 590.23L309.2 596.57L304.9 599.73L300.6 596.57L300.6 590.23Z"/>
<path fill="#3891da" stroke="#3891da" stroke-width="0.3" d="M378 501.57L382.3 504.73L382.3 511.07L378 514.23L373.7 511.07L373.7 504.73ZM347.9 511.07L352.2 514.23L352.2 520.57L347.9 523.73L343.6 520.57L343.6 514.23ZM335 520.57L339.3 523.73L339.3 530.07L335 533.23L330.7 530.07L330.7 523.73ZM352.2 520.57L356.5 523.73L356.5 530.07L352.2 533.23L347.9 530.07L347.9 523.73ZM356.5 530.07L360.8 533.23L360.8 539.57L356.5 542.73L352.2 539.57L352.2 533.23ZM365.1 530.07L369.4 533.23L369.4 539.57L365.1 542.73L360.8 539.57L360.8 533.23ZM335 539.57L339.3 542.73L339.3 549.07L335 552.23L330.7 549.07L330.7 542.73ZM330.7 549.07L335 552.23L335 558.57L330.7 561.73L326.4 558.57L326.4 552.23ZM343.6 558.57L347.9 561.73L347.9 568.07L343.6 571.23L339.3 568.07L339.3 561.73Z"/>
<path fill="#21679c" stroke="#21679c" stroke-width="0.3" d="M352.2 501.57L356.5 504.73L356.5 511.07L352.2 514.23L347.9 511.07L347.9 504.73ZM343.6 520.57L347.9 523.73L347.9 530.07L343.6 533.23L339.3 530.07L339.3 523.73ZM360.8 520.57L365.1 523.73L365.1 530.07L360.8 533.23L356.5 530.07L356.5 523.73ZM339.3 549.07L343.6 552.23L343.6 558.57L339.3 561.73L335 558.57L335 552.23Z"/>
<path fill="#1b4a7a" stroke="#1b4a7a" stroke-width="0.3" d="M339.3 530.07L343.6 533.23L343.6 539.57L339.3 542.73L335 539.57L335 533.23ZM352.2 539.57L356.5 542.73L356.5 549.07L352.2 552.23L347.9 549.07L347.9 542.73Z"/>
<path fill="#0d2438" stroke="#0d2438" stroke-width="0.3" d="M365.1 511.07L369.4 514.23L369.4 520.57L365.1 523.73L360.8 520.57L360.8 514.23ZM343.6 539.57L347.9 542.73L347.9 549.07L343.6 552.23L339.3 549.07L339.3 542.73Z"/>
<path fill="#05070a" stroke="#05070a" stroke-width="0.3" d="M339.3 511.07L343.6 514.23L343.6 520.57L339.3 523.73L335 520.57L335 514.23ZM347.9 530.07L352.2 533.23L352.2 539.57L347.9 542.73L343.6 539.57L343.6 533.23Z"/>
<line x1="250.2" y1="632.4" x2="441.1" y2="441.4" stroke="#93a6de" stroke-width="0.95"/>
<line x1="250.2" y1="441.2" x2="250.2" y2="632.4" stroke="#a6a6a6" stroke-width="1.1"/>
<line x1="249.7" y1="632.4" x2="446.3" y2="632.4" stroke="#b0b0b0" stroke-width="1.5"/>
<line x1="248.2" y1="632.4" x2="250.2" y2="632.4" stroke="#a6a6a6" stroke-width="0.8"/>
<line x1="250.2" y1="632.4" x2="250.2" y2="634.4" stroke="#a6a6a6" stroke-width="0.8"/>
<text x="247.6" y="635.7" font-size="9.2" text-anchor="end">3</text>
<text x="252.6" y="643.2" font-size="9.2" text-anchor="middle">3</text>
<line x1="248.2" y1="605.09" x2="250.2" y2="605.09" stroke="#a6a6a6" stroke-width="0.8"/>
<line x1="278.21" y1="632.4" x2="278.21" y2="634.4" stroke="#a6a6a6" stroke-width="0.8"/>
<text x="247.6" y="608.39" font-size="9.2" text-anchor="end">4</text>
<text x="278.71" y="643.2" font-size="9.2" text-anchor="middle">4</text>
<line x1="248.2" y1="577.77" x2="250.2" y2="577.77" stroke="#a6a6a6" stroke-width="0.8"/>
<line x1="306.23" y1="632.4" x2="306.23" y2="634.4" stroke="#a6a6a6" stroke-width="0.8"/>
<text x="247.6" y="581.07" font-size="9.2" text-anchor="end">5</text>
<text x="306.73" y="643.2" font-size="9.2" text-anchor="middle">5</text>
<line x1="248.2" y1="550.46" x2="250.2" y2="550.46" stroke="#a6a6a6" stroke-width="0.8"/>
<line x1="334.24" y1="632.4" x2="334.24" y2="634.4" stroke="#a6a6a6" stroke-width="0.8"/>
<text x="247.6" y="553.76" font-size="9.2" text-anchor="end">6</text>
<text x="334.74" y="643.2" font-size="9.2" text-anchor="middle">6</text>
<line x1="248.2" y1="523.14" x2="250.2" y2="523.14" stroke="#a6a6a6" stroke-width="0.8"/>
<line x1="362.26" y1="632.4" x2="362.26" y2="634.4" stroke="#a6a6a6" stroke-width="0.8"/>
<text x="247.6" y="526.44" font-size="9.2" text-anchor="end">7</text>
<text x="362.76" y="643.2" font-size="9.2" text-anchor="middle">7</text>
<line x1="248.2" y1="495.83" x2="250.2" y2="495.83" stroke="#a6a6a6" stroke-width="0.8"/>
<line x1="390.27" y1="632.4" x2="390.27" y2="634.4" stroke="#a6a6a6" stroke-width="0.8"/>
<text x="247.6" y="499.13" font-size="9.2" text-anchor="end">8</text>
<text x="390.77" y="643.2" font-size="9.2" text-anchor="middle">8</text>
<line x1="248.2" y1="468.51" x2="250.2" y2="468.51" stroke="#a6a6a6" stroke-width="0.8"/>
<line x1="418.29" y1="632.4" x2="418.29" y2="634.4" stroke="#a6a6a6" stroke-width="0.8"/>
<text x="247.6" y="471.81" font-size="9.2" text-anchor="end">9</text>
<text x="418.79" y="643.2" font-size="9.2" text-anchor="middle">9</text>
<line x1="248.2" y1="441.2" x2="250.2" y2="441.2" stroke="#a6a6a6" stroke-width="0.8"/>
<line x1="446.3" y1="632.4" x2="446.3" y2="634.4" stroke="#a6a6a6" stroke-width="0.8"/>
<text x="247.6" y="446" font-size="9.2" text-anchor="end">10</text>
<text x="446.8" y="643.2" font-size="9.2" text-anchor="middle">10</text>
<text x="256.8" y="447.8" font-size="9" textLength="18.4" lengthAdjust="spacingAndGlyphs">DNN</text>
<text x="256.8" y="460.2" font-size="9" textLength="63.3" lengthAdjust="spacingAndGlyphs">Cor. Coef.= 0.70</text>
<text x="256.8" y="472.6" font-size="9" textLength="84.2" lengthAdjust="spacingAndGlyphs">Avg. pred. val. = 6.33</text>
<path fill="#d0e7f7" stroke="#d0e7f7" stroke-width="0.3" d="M590.65 465.15L594.14 468.27L594.14 474.53L590.65 477.65L587.16 474.53L587.16 468.27ZM611.59 465.15L615.08 468.27L615.08 474.53L611.59 477.65L608.1 474.53L608.1 468.27ZM583.67 483.91L587.16 487.03L587.16 493.29L583.67 496.41L580.18 493.29L580.18 487.03ZM597.63 483.91L601.12 487.03L601.12 493.29L597.63 496.41L594.14 493.29L594.14 487.03ZM566.22 493.29L569.71 496.41L569.71 502.67L566.22 505.79L562.73 502.67L562.73 496.41ZM573.2 493.29L576.69 496.41L576.69 502.67L573.2 505.79L569.71 502.67L569.71 496.41ZM587.16 493.29L590.65 496.41L590.65 502.67L587.16 505.79L583.67 502.67L583.67 496.41ZM594.14 493.29L597.63 496.41L597.63 502.67L594.14 505.79L590.65 502.67L590.65 496.41ZM608.1 493.29L611.59 496.41L611.59 502.67L608.1 505.79L604.61 502.67L604.61 496.41ZM555.75 502.67L559.24 505.79L559.24 512.05L555.75 515.17L552.26 512.05L552.26 505.79ZM604.61 502.67L608.1 505.79L608.1 512.05L604.61 515.17L601.12 512.05L601.12 505.79ZM545.28 512.05L548.77 515.17L548.77 521.43L545.28 524.55L541.79 521.43L541.79 515.17ZM594.14 512.05L597.63 515.17L597.63 521.43L594.14 524.55L590.65 521.43L590.65 515.17ZM608.1 512.05L611.59 515.17L611.59 521.43L608.1 524.55L604.61 521.43L604.61 515.17ZM548.77 521.43L552.26 524.55L552.26 530.81L548.77 533.93L545.28 530.81L545.28 524.55ZM538.3 530.81L541.79 533.93L541.79 540.19L538.3 543.31L534.81 540.19L534.81 533.93ZM580.18 530.81L583.67 533.93L583.67 540.19L580.18 543.31L576.69 540.19L576.69 533.93ZM534.81 540.19L538.3 543.31L538.3 549.57L534.81 552.69L531.32 549.57L531.32 543.31ZM583.67 540.19L587.16 543.31L587.16 549.57L583.67 552.69L580.18 549.57L580.18 543.31ZM548.77 558.95L552.26 562.07L552.26 568.33L548.77 571.45L545.28 568.33L545.28 562.07ZM583.67 558.95L587.16 562.07L587.16 568.33L583.67 571.45L580.18 568.33L580.18 562.07ZM559.24 568.33L562.73 571.45L562.73 577.71L559.24 580.83L555.75 577.71L555.75 571.45ZM566.22 568.33L569.71 571.45L569.71 577.71L566.22 580.83L562.73 577.71L562.73 571.45ZM520.85 577.71L524.34 580.83L524.34 587.09L520.85 590.21L517.36 587.09L517.36 580.83ZM541.79 577.71L545.28 580.83L545.28 587.09L541.79 590.21L538.3 587.09L538.3 580.83ZM562.73 577.71L566.22 580.83L566.22 587.09L562.73 590.21L559.24 587.09L559.24 580.83ZM569.71 577.71L573.2 580.83L573.2 587.09L569.71 590.21L566.22 587.09L566.22 580.83ZM510.38 587.09L513.87 590.21L513.87 596.47L510.38 599.59L506.89 596.47L506.89 590.21ZM552.26 587.09L555.75 590.21L555.75 596.47L552.26 599.59L548.77 596.47L548.77 590.21ZM559.24 587.09L562.73 590.21L562.73 596.47L559.24 599.59L555.75 596.47L555.75 590.21ZM513.87 596.47L517.36 599.59L517.36 605.85L513.87 608.97L510.38 605.85L510.38 599.59ZM534.81 596.47L538.3 599.59L538.3 605.85L534.81 608.97L531.32 605.85L531.32 599.59ZM548.77 596.47L552.26 599.59L552.26 605.85L548.77 608.97L545.28 605.85L545.28 599.59ZM562.73 596.47L566.22 599.59L566.22 605.85L562.73 608.97L559.24 605.85L559.24 599.59ZM524.34 605.85L527.83 608.97L527.83 615.23L524.34 618.35L520.85 615.23L520.85 608.97ZM531.32 605.85L534.81 608.97L534.81 615.23L531.32 618.35L527.83 615.23L527.83 608.97ZM552.26 605.85L555.75 608.97L555.75 615.23L552.26 618.35L548.77 615.23L548.77 608.97ZM506.89 615.23L510.38 618.35L510.38 624.61L506.89 627.73L503.4 624.61L503.4 618.35ZM548.77 615.23L552.26 618.35L552.26 624.61L548.77 627.73L545.28 624.61L545.28 618.35Z"/>
<path fill="#bcdaf2" stroke="#bcdaf2" stroke-width="0.3" d="M559.24 493.29L562.73 496.41L562.73 502.67L559.24 505.79L555.75 502.67L555.75 496.41ZM562.73 502.67L566.22 505.79L566.22 512.05L562.73 515.17L559.24 512.05L559.24 505.79ZM576.69 502.67L580.18 505.79L580.18 512.05L576.69 515.17L573.2 512.05L573.2 505.79ZM611.59 502.67L615.08 505.79L615.08 512.05L611.59 515.17L608.1 512.05L608.1 505.79ZM583.67 521.43L587.16 524.55L587.16 530.81L583.67 533.93L580.18 530.81L580.18 524.55ZM590.65 521.43L594.14 524.55L594.14 530.81L590.65 533.93L587.16 530.81L587.16 524.55ZM580.18 549.57L583.67 552.69L583.67 558.95L580.18 562.07L576.69 558.95L576.69 552.69ZM541.79 558.95L545.28 562.07L545.28 568.33L541.79 571.45L538.3 568.33L538.3 562.07ZM545.28 587.09L548.77 590.21L548.77 596.47L545.28 599.59L541.79 596.47L541.79 590.21Z"/>
<path fill="#9ccbef" stroke="#9ccbef" stroke-width="0.3" d="M580.18 493.29L583.67 496.41L583.67 502.67L580.18 505.79L576.69 502.67L576.69 496.41ZM587.16 512.05L590.65 515.17L590.65 521.43L587.16 524.55L583.67 521.43L583.67 515.17ZM587.16 530.81L590.65 533.93L590.65 540.19L587.16 543.31L583.67 540.19L583.67 533.93ZM569.71 540.19L573.2 543.31L573.2 549.57L569.71 552.69L566.22 549.57L566.22 543.31ZM545.28 549.57L548.77 552.69L548.77 558.95L545.28 562.07L541.79 558.95L541.79 552.69ZM552.26 549.57L555.75 552.69L555.75 558.95L552.26 562.07L548.77 558.95L548.77 552.69ZM573.2 549.57L576.69 552.69L576.69 558.95L573.2 562.07L569.71 558.95L569.71 552.69ZM534.81 558.95L538.3 562.07L538.3 568.33L534.81 571.45L531.32 568.33L531.32 562.07ZM569.71 558.95L573.2 562.07L573.2 568.33L569.71 571.45L566.22 568.33L566.22 562.07ZM538.3 568.33L541.79 571.45L541.79 577.71L538.3 580.83L534.81 577.71L534.81 571.45ZM545.28 568.33L548.77 571.45L548.77 577.71L545.28 580.83L541.79 577.71L541.79 571.45ZM552.26 568.33L555.75 571.45L555.75 577.71L552.26 580.83L548.77 577.71L548.77 571.45ZM534.81 577.71L538.3 580.83L538.3 587.09L534.81 590.21L531.32 587.09L531.32 580.83ZM555.75 577.71L559.24 580.83L559.24 587.09L555.75 590.21L552.26 587.09L552.26 580.83Z"/>
<path fill="#6cb2e4" stroke="#6cb2e4" stroke-width="0.3" d="M590.65 502.67L594.14 505.79L594.14 512.05L590.65 515.17L587.16 512.05L587.16 505.79ZM576.69 521.43L580.18 524.55L580.18 530.81L576.69 533.93L573.2 530.81L573.2 524.55ZM552.26 530.81L555.75 533.93L555.75 540.19L552.26 543.31L548.77 540.19L548.77 533.93ZM566.22 549.57L569.71 552.69L569.71 558.95L566.22 562.07L562.73 558.95L562.73 552.69ZM548.77 577.71L552.26 580.83L552.26 587.09L548.77 590.21L545.28 587.09L545.28 580.83ZM538.3 587.09L541.79 590.21L541.79 596.47L538.3 599.59L534.81 596.47L534.81 590.21ZM520.85 596.47L524.34 599.59L524.34 605.85L520.85 608.97L517.36 605.85L517.36 599.59Z"/>
<path fill="#3891da" stroke="#3891da" stroke-width="0.3" d="M569.71 502.67L573.2 505.79L573.2 512.05L569.71 515.17L566.22 512.05L566.22 505.79ZM583.67 502.67L587.16 505.79L587.16 512.05L583.67 515.17L580.18 512.05L580.18 505.79ZM559.24 512.05L562.73 515.17L562.73 521.43L559.24 524.55L555.75 521.43L555.75 515.17ZM580.18 512.05L583.67 515.17L583.67 521.43L580.18 524.55L576.69 521.43L576.69 515.17ZM555.75 521.43L559.24 524.55L559.24 530.81L555.75 533.93L552.26 530.81L552.26 524.55ZM555.75 540.19L559.24 543.31L559.24 549.57L555.75 552.69L552.26 549.57L552.26 543.31ZM576.69 540.19L580.18 543.31L580.18 549.57L576.69 552.69L573.2 549.57L573.2 543.31ZM559.24 549.57L562.73 552.69L562.73 558.95L559.24 562.07L555.75 558.95L555.75 552.69ZM555.75 558.95L559.24 562.07L559.24 568.33L555.75 571.45L552.26 568.33L552.26 562.07ZM562.73 558.95L566.22 562.07L566.22 568.33L562.73 571.45L559.24 568.33L559.24 562.07Z"/>
<path fill="#21679c" stroke="#21679c" stroke-width="0.3" d="M562.73 521.43L566.22 524.55L566.22 530.81L562.73 533.93L559.24 530.81L559.24 524.55ZM569.71 521.43L573.2 524.55L573.2 530.81L569.71 533.93L566.22 530.81L566.22 524.55ZM559.24 530.81L562.73 533.93L562.73 540.19L559.24 543.31L555.75 540.19L555.75 533.93ZM566.22 530.81L569.71 533.93L569.71 540.19L566.22 543.31L562.73 540.19L562.73 533.93Z"/>
<path fill="#1b4a7a" stroke="#1b4a7a" stroke-width="0.3" d="M566.22 512.05L569.71 515.17L569.71 521.43L566.22 524.55L562.73 521.43L562.73 515.17Z"/>
<path fill="#0d2438" stroke="#0d2438" stroke-width="0.3" d="M573.2 530.81L576.69 533.93L576.69 540.19L573.2 543.31L569.71 540.19L569.71 533.93ZM562.73 540.19L566.22 543.31L566.22 549.57L562.73 552.69L559.24 549.57L559.24 543.31Z"/>
<path fill="#05070a" stroke="#05070a" stroke-width="0.3" d="M573.2 512.05L576.69 515.17L576.69 521.43L573.2 524.55L569.71 521.43L569.71 515.17Z"/>
<line x1="467.4" y1="632.5" x2="658" y2="442.3" stroke="#a6aee8" stroke-width="0.95"/>
<line x1="467.4" y1="441.2" x2="467.4" y2="632.5" stroke="#a6a6a6" stroke-width="1.1"/>
<line x1="466.9" y1="632.5" x2="657.6" y2="632.5" stroke="#b0b0b0" stroke-width="1.5"/>
<line x1="465.4" y1="632.5" x2="467.4" y2="632.5" stroke="#a6a6a6" stroke-width="0.8"/>
<line x1="467.4" y1="632.5" x2="467.4" y2="634.5" stroke="#a6a6a6" stroke-width="0.8"/>
<text x="464.8" y="635.8" font-size="9.2" text-anchor="end">3</text>
<text x="469.8" y="643.3" font-size="9.2" text-anchor="middle">3</text>
<line x1="465.4" y1="605.17" x2="467.4" y2="605.17" stroke="#a6a6a6" stroke-width="0.8"/>
<line x1="494.57" y1="632.5" x2="494.57" y2="634.5" stroke="#a6a6a6" stroke-width="0.8"/>
<text x="464.8" y="608.47" font-size="9.2" text-anchor="end">4</text>
<text x="495.07" y="643.3" font-size="9.2" text-anchor="middle">4</text>
<line x1="465.4" y1="577.84" x2="467.4" y2="577.84" stroke="#a6a6a6" stroke-width="0.8"/>
<line x1="521.74" y1="632.5" x2="521.74" y2="634.5" stroke="#a6a6a6" stroke-width="0.8"/>
<text x="464.8" y="581.14" font-size="9.2" text-anchor="end">5</text>
<text x="522.24" y="643.3" font-size="9.2" text-anchor="middle">5</text>
<line x1="465.4" y1="550.51" x2="467.4" y2="550.51" stroke="#a6a6a6" stroke-width="0.8"/>
<line x1="548.91" y1="632.5" x2="548.91" y2="634.5" stroke="#a6a6a6" stroke-width="0.8"/>
<text x="464.8" y="553.81" font-size="9.2" text-anchor="end">6</text>
<text x="549.41" y="643.3" font-size="9.2" text-anchor="middle">6</text>
<line x1="465.4" y1="523.19" x2="467.4" y2="523.19" stroke="#a6a6a6" stroke-width="0.8"/>
<line x1="576.09" y1="632.5" x2="576.09" y2="634.5" stroke="#a6a6a6" stroke-width="0.8"/>
<text x="464.8" y="526.49" font-size="9.2" text-anchor="end">7</text>
<text x="576.59" y="643.3" font-size="9.2" text-anchor="middle">7</text>
<line x1="465.4" y1="495.86" x2="467.4" y2="495.86" stroke="#a6a6a6" stroke-width="0.8"/>
<line x1="603.26" y1="632.5" x2="603.26" y2="634.5" stroke="#a6a6a6" stroke-width="0.8"/>
<text x="464.8" y="499.16" font-size="9.2" text-anchor="end">8</text>
<text x="603.76" y="643.3" font-size="9.2" text-anchor="middle">8</text>
<line x1="465.4" y1="468.53" x2="467.4" y2="468.53" stroke="#a6a6a6" stroke-width="0.8"/>
<line x1="630.43" y1="632.5" x2="630.43" y2="634.5" stroke="#a6a6a6" stroke-width="0.8"/>
<text x="464.8" y="471.83" font-size="9.2" text-anchor="end">9</text>
<text x="630.93" y="643.3" font-size="9.2" text-anchor="middle">9</text>
<line x1="465.4" y1="441.2" x2="467.4" y2="441.2" stroke="#a6a6a6" stroke-width="0.8"/>
<line x1="657.6" y1="632.5" x2="657.6" y2="634.5" stroke="#a6a6a6" stroke-width="0.8"/>
<text x="464.8" y="446" font-size="9.2" text-anchor="end">10</text>
<text x="658.1" y="643.3" font-size="9.2" text-anchor="middle">10</text>
<text x="477" y="449.9" font-size="9" textLength="17.9" lengthAdjust="spacingAndGlyphs">CNN</text>
<text x="477" y="462.6" font-size="9" textLength="63.5" lengthAdjust="spacingAndGlyphs">Cor. Coef.= 0.78</text>
<text x="477" y="474.6" font-size="9" textLength="84.4" lengthAdjust="spacingAndGlyphs">Avg. pred. val. = 6.87</text>
<path d="M15.3 652.4 H121" stroke="#262626" stroke-width="1" fill="none"/>
<path d="M15.3 652.4 V547" stroke="#262626" stroke-width="1" fill="none"/>
<path d="M125 652.4 L119.5 649.6 L119.5 655.2 Z" fill="#262626"/>
<path d="M15.3 543 L12.5 548.5 L18.1 548.5 Z" fill="#262626"/>
<text x="36.8" y="664.5" font-size="9.7" textLength="66" lengthAdjust="spacingAndGlyphs">Predicted yield</text>
<text transform="translate(7.4 647) rotate(-90)" font-size="9.7" textLength="81" lengthAdjust="spacingAndGlyphs">Ground truth yield</text>
</svg></body></html>
